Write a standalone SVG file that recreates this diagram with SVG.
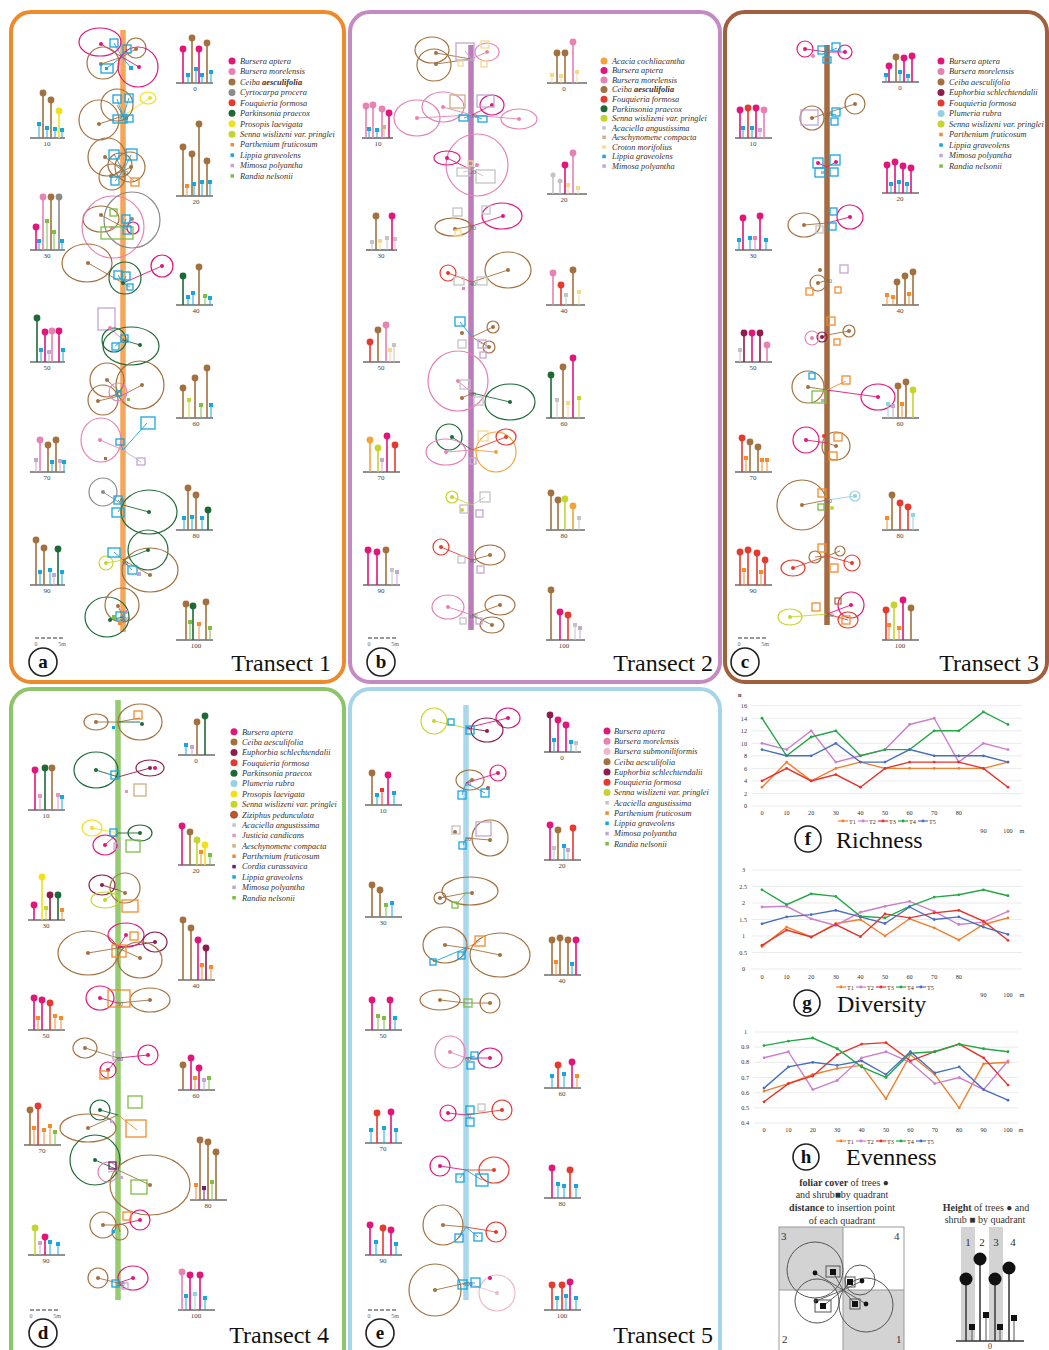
<svg xmlns="http://www.w3.org/2000/svg" width="1049" height="1350" viewBox="0 0 1049 1350">
<defs>
<style>
.fr{fill:none;stroke-width:4}
.tl{stroke-width:5.5;fill:none}
.cr{fill:none;stroke:currentColor;stroke-width:1.2}
.dt{fill:currentColor;stroke:none}
.ln{stroke:currentColor;stroke-width:0.9;fill:none}
.sq{fill:none;stroke:currentColor;stroke-width:1.3}
.st{stroke:currentColor;stroke-width:1.6;fill:none}
.ss{stroke:currentColor;stroke-width:1;fill:none}
.bl{stroke:#6b6b6b;stroke-width:1.6}
.lbl{font-family:"Liberation Serif",serif;font-size:7px;fill:#444;text-anchor:middle}
.sl{font-family:"Liberation Serif",serif;font-size:6px;fill:#666;text-anchor:middle}
.leg{font-family:"Liberation Serif",serif;font-style:italic;font-size:8.4px;fill:#333}
.tt{font-family:"Liberation Serif",serif;font-size:24px;fill:#111;text-anchor:end}
.lt{font-family:"Liberation Serif",serif;font-size:19px;font-weight:bold;text-anchor:middle;fill:#111}
.lc{fill:#fff;stroke:#222;stroke-width:1.6}
.ax{font-family:"Liberation Serif",serif;font-size:6.2px;fill:#333}
.gr{stroke:#e6e6e6;stroke-width:0.8}
.sx{font-family:"Liberation Serif",serif;font-size:10px;fill:#333;text-anchor:middle}
.ct{font-family:"Liberation Serif",serif;font-size:24px;fill:#111}
.ap{color:#E2157B}.bm{color:#E682B4}.ca{color:#A3713F}.cp{color:#8A8A8A}.ff{color:#E63A2E}
.pp{color:#1D6A37}.pl{color:#F2E01A}.sw{color:#C5D52E}.pf{color:#F28C2C}.lg{color:#1AA6DD}
.mp{color:#C3A6D4}.rn{color:#7DBE45}.ac{color:#F4A23A}.aa{color:#C4C4C4}.ae{color:#CDB083}
.cm{color:#F5D98E}.es{color:#8C1D4D}.pr{color:#92D2E2}.zp{color:#C8502C}.jc{color:#EA94C4}
.cc{color:#6B1E6E}.bs{color:#EEB7CC}
</style>
<marker id="m1" markerWidth="4" markerHeight="4" refX="2" refY="2" markerUnits="userSpaceOnUse"><circle cx="2" cy="2" r="1.4" fill="#F07F2D"/></marker>
<marker id="m2" markerWidth="4" markerHeight="4" refX="2" refY="2" markerUnits="userSpaceOnUse"><circle cx="2" cy="2" r="1.4" fill="#CC7FCB"/></marker>
<marker id="m3" markerWidth="4" markerHeight="4" refX="2" refY="2" markerUnits="userSpaceOnUse"><circle cx="2" cy="2" r="1.4" fill="#E8322B"/></marker>
<marker id="m4" markerWidth="4" markerHeight="4" refX="2" refY="2" markerUnits="userSpaceOnUse"><circle cx="2" cy="2" r="1.4" fill="#23A846"/></marker>
<marker id="m5" markerWidth="4" markerHeight="4" refX="2" refY="2" markerUnits="userSpaceOnUse"><circle cx="2" cy="2" r="1.4" fill="#4A6FBF"/></marker>
</defs>
<rect width="1049" height="1350" fill="#fff"/>

<!-- ================= PANEL A ================= -->
<g id="panel-a">
<rect class="fr" x="11" y="12" width="333" height="670" rx="20" stroke="#EE8A2A"/>
<path class="tl" d="M123 30V632" stroke="#F5A65B"/>
<g id="a-st0">
<path class="ap ln" d="M122 57L101 44M122 57L139 67"/><path class="ca ln" d="M122 57L101 64M122 57L136 49"/><path class="lg ln" d="M122 57L114 43M122 57L127 49M122 57L107 68M122 57L131 68"/>
<ellipse class="ap cr" cx="100" cy="42" rx="21" ry="14"/><circle class="ca cr" cx="103" cy="63" r="16"/><circle class="ca cr" cx="136" cy="48" r="10"/><circle class="ap cr" cx="138" cy="67" r="20"/>
<circle class="ap dt" cx="101" cy="44" r="2"/><circle class="ca dt" cx="101" cy="64" r="2"/><circle class="ca dt" cx="136" cy="49" r="2"/><circle class="ap dt" cx="139" cy="67" r="2"/>
<rect class="lg sq" x="110" y="39" width="8" height="8"/><rect class="lg sq" x="123" y="45" width="8" height="8"/><rect class="lg sq" x="101" y="64" width="12" height="9"/><rect class="lg dt" x="129" y="66" width="4" height="4"/><rect class="lg dt" x="105" y="67" width="3" height="3"/>
</g>
<g id="a-st10">
<path class="ca ln" d="M123 116L99 124M123 116L117 105"/><path class="pl ln" d="M123 116L150 98"/><path class="lg ln" d="M123 116L117 99M123 116L129 98M123 116L120 119M123 116L128 119"/>
<circle class="ca cr" cx="99" cy="120" r="20"/><circle class="ca cr" cx="117" cy="105" r="16"/><ellipse class="pl cr" cx="148" cy="98" rx="8" ry="6"/>
<circle class="ca dt" cx="99" cy="124" r="2"/><circle class="pl dt" cx="150" cy="98" r="2"/>
<rect class="lg sq" x="113" y="95" width="8" height="8"/><rect class="lg sq" x="125" y="94" width="8" height="8"/><rect class="lg sq" x="113" y="115" width="14" height="8"/><rect class="lg sq" x="125" y="115" width="8" height="7"/>
</g>
<g id="a-st20">
<path class="ca ln" d="M123 171L105 157M123 171L131 167M123 171L111 176M123 171L120 165"/><path class="lg ln" d="M123 171L114 154M123 171L131 155M123 171L115 181"/><path class="pf ln" d="M123 171L135 182"/>
<circle class="ca cr" cx="107" cy="157" r="19"/><circle class="ca cr" cx="130" cy="167" r="15"/><circle class="ca cr" cx="112" cy="177" r="13"/><circle class="ca cr" cx="120" cy="165" r="12"/>
<circle class="ca dt" cx="105" cy="157" r="2"/><circle class="ca dt" cx="131" cy="167" r="2"/><circle class="ca dt" cx="111" cy="176" r="2"/>
<rect class="lg sq" x="109" y="150" width="10" height="9"/><rect class="lg sq" x="126" y="149" width="11" height="11"/><rect class="lg sq" x="111" y="177" width="8" height="8"/><rect class="pf sq" x="131" y="178" width="8" height="8"/>
</g>
<g id="a-st30">
<path class="ca ln" d="M123 227L101 215"/><path class="cp ln" d="M123 227L132 219"/><path class="ap ln" d="M123 227L130 226"/><path class="lg ln" d="M123 227L126 219M123 227L127 230"/>
<ellipse class="ca cr" cx="101" cy="219" rx="18" ry="13"/><circle class="bm cr" cx="113" cy="227" r="31"/><circle class="cp cr" cx="132" cy="220" r="28"/><circle class="ap cr" cx="133" cy="228" r="6"/>
<circle class="ca dt" cx="101" cy="215" r="2"/><circle class="cp dt" cx="132" cy="219" r="2"/><circle class="bm dt" cx="112" cy="228" r="2"/>
<rect class="rn sq" x="101" y="227" width="32" height="12"/><rect class="rn sq" x="110" y="209" width="7" height="7"/><rect class="lg sq" x="122" y="215" width="8" height="8"/><rect class="lg sq" x="123" y="226" width="8" height="8"/>
</g>
<g id="a-st40">
<path class="ca ln" d="M123 283L88 263"/><path class="ap ln" d="M123 283L162 266"/><path class="lg ln" d="M123 283L118 275M123 283L126 276M123 283L130 287"/>
<ellipse class="ca cr" cx="87" cy="263" rx="25" ry="19"/><circle class="pp cr" cx="125" cy="278" r="16"/><circle class="ap cr" cx="162" cy="266" r="11"/>
<circle class="ca dt" cx="88" cy="263" r="2"/><circle class="ap dt" cx="162" cy="266" r="2"/><circle class="pp dt" cx="123" cy="283" r="2"/>
<rect class="lg sq" x="114" y="271" width="8" height="8"/><rect class="lg sq" x="122" y="272" width="8" height="8"/><rect class="lg sq" x="127" y="284" width="6" height="6"/>
</g>
<g id="a-st50">
<path class="pp ln" d="M123 340L140 345"/><path class="bm ln" d="M123 340L110 328"/><path class="lg ln" d="M123 340L115 346M123 340L124 338"/>
<rect class="mp sq" x="98" y="308" width="17" height="22"/><ellipse class="pp cr" cx="131" cy="346" rx="28" ry="19"/><circle class="pp cr" cx="114" cy="340" r="12"/>
<circle class="pp dt" cx="140" cy="345" r="2"/><circle class="bm dt" cx="110" cy="328" r="2"/>
<rect class="lg sq" x="112" y="343" width="7" height="7"/><rect class="lg sq" x="121" y="335" width="7" height="7"/>
</g>
<g id="a-st60">
<path class="ca ln" d="M123 395L107 380M123 395L142 385M123 395L98 401"/><path class="bm ln" d="M123 395L118 392"/>
<circle class="ca cr" cx="107" cy="380" r="17"/><circle class="ca cr" cx="140" cy="385" r="24"/><circle class="ca cr" cx="103" cy="400" r="15"/><circle class="bm cr" cx="118" cy="392" r="9"/>
<circle class="ca dt" cx="107" cy="380" r="2"/><circle class="ca dt" cx="142" cy="385" r="2"/><circle class="ca dt" cx="98" cy="401" r="2"/>
<rect class="lg sq" x="116" y="391" width="5" height="5"/><rect class="rn dt" x="127" y="398" width="3" height="3"/>
</g>
<g id="a-st70">
<path class="bm ln" d="M123 450L100 440"/><path class="lg ln" d="M123 450L147 423M123 450L120 442"/><path class="mp ln" d="M123 450L141 462"/>
<ellipse class="bm cr" cx="101" cy="440" rx="20" ry="22"/><circle class="bm dt" cx="100" cy="440" r="2"/>
<rect class="lg sq" x="141" y="417" width="14" height="12"/><rect class="lg sq" x="116" y="439" width="8" height="6"/><rect class="mp sq" x="137" y="458" width="8" height="7"/><rect class="ca dt" x="104" y="457" width="3" height="3"/>
</g>
<g id="a-st80">
<path class="cp ln" d="M123 505L103 492"/><path class="pp ln" d="M123 505L149 512"/><path class="lg ln" d="M123 505L118 500M123 505L118 512"/>
<circle class="cp cr" cx="103" cy="492" r="14"/><ellipse class="pp cr" cx="149" cy="512" rx="28" ry="22"/>
<circle class="cp dt" cx="103" cy="492" r="2"/><circle class="pp dt" cx="149" cy="512" r="2"/><circle class="ca dt" cx="122" cy="500" r="2"/>
<rect class="lg sq" x="114" y="496" width="8" height="8"/><rect class="lg sq" x="112" y="508" width="12" height="9"/>
</g>
<g id="a-st90">
<path class="pp ln" d="M123 560L148 550"/><path class="ca ln" d="M123 560L150 575"/><path class="sw ln" d="M123 560L106 563"/><path class="lg ln" d="M123 560L114 552M123 560L132 570"/>
<circle class="pp cr" cx="148" cy="550" r="20"/><ellipse class="ca cr" cx="150" cy="570" rx="28" ry="22"/><circle class="sw cr" cx="106" cy="563" r="7"/>
<circle class="pp dt" cx="148" cy="550" r="2"/><circle class="ca dt" cx="150" cy="575" r="2"/><circle class="sw dt" cx="106" cy="563" r="2"/>
<rect class="lg sq" x="108" y="548" width="12" height="9"/><rect class="lg sq" x="128" y="566" width="9" height="8"/><rect class="mp dt" x="137" y="572" width="4" height="4"/>
</g>
<g id="a-st100">
<path class="pp ln" d="M123 617L110 620"/><path class="ca ln" d="M123 617L118 606"/><path class="lg ln" d="M123 617L120 616"/>
<ellipse class="pp cr" cx="107" cy="617" rx="22" ry="20"/><circle class="ca cr" cx="122" cy="605" r="17"/>
<circle class="pp dt" cx="110" cy="620" r="2"/><circle class="ca dt" cx="118" cy="606" r="2"/><circle class="bm dt" cx="126" cy="612" r="2"/>
<rect class="lg sq" x="116" y="612" width="8" height="8"/><rect class="pf dt" x="118" y="621" width="4" height="4"/><rect class="rn dt" x="112" y="615" width="4" height="4"/>
</g>
<text class="sl" x="125" y="120">10</text><text class="sl" x="125" y="175">20</text><text class="sl" x="125" y="343">50</text><text class="sl" x="125" y="565">90</text><text class="sl" x="125" y="621">100</text>
<!-- height charts a -->
<g id="a-h0"><path class="bl" d="M176 83H213"/>
<path class="ap st" d="M183 83V49M199 83V49"/><path class="ca st" d="M192 83V38M207 83V43"/>
<circle class="ap dt" cx="183" cy="49" r="3.4"/><circle class="ap dt" cx="199" cy="49" r="3.4"/><circle class="ca dt" cx="192" cy="38" r="3.4"/><circle class="ca dt" cx="207" cy="43" r="3.4"/>
<path class="lg ss" d="M188 83V75M196 83V69M202 83V75M211 83V72"/><g class="lg dt"><rect x="186" y="73" width="4" height="4"/><rect x="194" y="67" width="4" height="4"/><rect x="200" y="73" width="4" height="4"/><rect x="209" y="70" width="4" height="4"/></g>
<text class="lbl" x="195" y="91">0</text></g>
<g id="a-h10"><path class="bl" d="M30 138H65"/>
<path class="ca st" d="M43 138V93M51 138V100"/><path class="pl st" d="M59 138V111"/>
<circle class="ca dt" cx="43" cy="93" r="3.4"/><circle class="ca dt" cx="51" cy="100" r="3.4"/><circle class="pl dt" cx="59" cy="111" r="3.4"/>
<path class="lg ss" d="M39 138V124M47 138V128M55 138V129M62 138V130"/><g class="lg dt"><rect x="37" y="122" width="4" height="4"/><rect x="45" y="126" width="4" height="4"/><rect x="53" y="127" width="4" height="4"/><rect x="60" y="128" width="4" height="4"/></g>
<text class="lbl" x="47" y="146">10</text></g>
<g id="a-h20"><path class="bl" d="M176 196H213"/>
<path class="ca st" d="M183 196V147M192 196V154M199 196V124M207 196V161"/>
<circle class="ca dt" cx="183" cy="147" r="3.4"/><circle class="ca dt" cx="192" cy="154" r="3.4"/><circle class="ca dt" cx="199" cy="124" r="3.4"/><circle class="ca dt" cx="207" cy="161" r="3.4"/>
<path class="pf ss" d="M187 196V186"/><rect class="pf dt" x="185" y="184" width="4" height="4"/>
<path class="lg ss" d="M194 196V184M202 196V182M210 196V182"/><g class="lg dt"><rect x="192" y="182" width="4" height="4"/><rect x="200" y="180" width="4" height="4"/><rect x="208" y="180" width="4" height="4"/></g>
<text class="lbl" x="196" y="204">20</text></g>
<g id="a-h30"><path class="bl" d="M30 250H65"/>
<path class="ap st" d="M36 250V227"/><path class="bm st" d="M43 250V197"/><path class="ca st" d="M51 250V197"/><path class="cp st" d="M59 250V197"/>
<circle class="ap dt" cx="36" cy="227" r="3.4"/><circle class="bm dt" cx="43" cy="197" r="3.4"/><circle class="ca dt" cx="51" cy="197" r="3.4"/><circle class="cp dt" cx="59" cy="197" r="3.4"/>
<path class="lg ss" d="M39 250V241M62 250V241"/><path class="rn ss" d="M47 250V221M54 250V232"/>
<g class="lg dt"><rect x="37" y="239" width="4" height="4"/><rect x="60" y="239" width="4" height="4"/></g><g class="rn dt"><rect x="45" y="219" width="4" height="4"/><rect x="52" y="230" width="4" height="4"/></g>
<text class="lbl" x="47" y="258">30</text></g>
<g id="a-h40"><path class="bl" d="M176 305H213"/>
<path class="pp st" d="M183 305V276"/><path class="ca st" d="M199 305V267"/>
<circle class="pp dt" cx="183" cy="276" r="3.4"/><circle class="ca dt" cx="199" cy="267" r="3.4"/>
<path class="lg ss" d="M188 305V297M193 305V293M210 305V298"/><path class="rn ss" d="M205 305V296"/>
<g class="lg dt"><rect x="186" y="295" width="4" height="4"/><rect x="191" y="291" width="4" height="4"/><rect x="208" y="296" width="4" height="4"/></g><rect class="rn dt" x="203" y="294" width="4" height="4"/>
<text class="lbl" x="196" y="313">40</text></g>
<g id="a-h50"><path class="bl" d="M30 362H65"/>
<path class="pp st" d="M37 362V318"/><path class="ap st" d="M45 362V332M59 362V331"/><path class="bm st" d="M52 362V331"/>
<circle class="pp dt" cx="37" cy="318" r="3.4"/><circle class="ap dt" cx="45" cy="332" r="3.4"/><circle class="bm dt" cx="52" cy="331" r="3.4"/><circle class="ap dt" cx="59" cy="331" r="3.4"/>
<path class="lg ss" d="M41 362V350M63 362V350"/><path class="mp ss" d="M49 362V352"/>
<g class="lg dt"><rect x="39" y="348" width="4" height="4"/><rect x="61" y="348" width="4" height="4"/></g><rect class="mp dt" x="47" y="350" width="4" height="4"/>
<text class="lbl" x="47" y="370">50</text></g>
<g id="a-h60"><path class="bl" d="M176 418H213"/>
<path class="ca st" d="M183 418V388M195 418V378M207 418V368"/>
<circle class="ca dt" cx="183" cy="388" r="3.4"/><circle class="ca dt" cx="195" cy="378" r="3.4"/><circle class="ca dt" cx="207" cy="368" r="3.4"/>
<path class="sw ss" d="M189 418V400"/><path class="rn ss" d="M201 418V405"/><path class="lg ss" d="M211 418V405"/>
<rect class="sw dt" x="187" y="398" width="4" height="4"/><rect class="rn dt" x="199" y="403" width="4" height="4"/><rect class="lg dt" x="209" y="403" width="4" height="4"/>
<text class="lbl" x="196" y="426">60</text></g>
<g id="a-h70"><path class="bl" d="M30 472H65"/>
<path class="bm st" d="M40 472V440"/><path class="ca st" d="M48 472V445M56 472V440"/>
<circle class="bm dt" cx="40" cy="440" r="3.4"/><circle class="ca dt" cx="48" cy="445" r="3.4"/><circle class="ca dt" cx="56" cy="440" r="3.4"/>
<path class="mp ss" d="M36 472V460M60 472V461"/><path class="lg ss" d="M52 472V462M64 472V462"/>
<g class="mp dt"><rect x="34" y="458" width="4" height="4"/><rect x="58" y="459" width="4" height="4"/></g><g class="lg dt"><rect x="50" y="460" width="4" height="4"/><rect x="62" y="460" width="4" height="4"/></g>
<text class="lbl" x="47" y="480">70</text></g>
<g id="a-h80"><path class="bl" d="M176 530H213"/>
<path class="ca st" d="M188 530V488M196 530V495"/><path class="pp st" d="M208 530V510"/>
<circle class="ca dt" cx="188" cy="488" r="3.4"/><circle class="ca dt" cx="196" cy="495" r="3.4"/><circle class="pp dt" cx="208" cy="510" r="3.4"/>
<path class="lg ss" d="M184 530V518M192 530V517M202 530V518"/><g class="lg dt"><rect x="182" y="516" width="4" height="4"/><rect x="190" y="515" width="4" height="4"/><rect x="200" y="516" width="4" height="4"/></g>
<text class="lbl" x="196" y="538">80</text></g>
<g id="a-h90"><path class="bl" d="M30 585H65"/>
<path class="ca st" d="M36 585V540M44 585V548"/><path class="pp st" d="M58 585V549"/>
<circle class="ca dt" cx="36" cy="540" r="3.4"/><circle class="ca dt" cx="44" cy="548" r="3.4"/><circle class="pp dt" cx="58" cy="549" r="3.4"/>
<path class="lg ss" d="M40 585V572M50 585V570M62 585V572"/><path class="mp ss" d="M54 585V575"/>
<g class="lg dt"><rect x="38" y="570" width="4" height="4"/><rect x="48" y="568" width="4" height="4"/><rect x="60" y="570" width="4" height="4"/></g><rect class="mp dt" x="52" y="573" width="4" height="4"/>
<text class="lbl" x="47" y="593">90</text></g>
<g id="a-h100"><path class="bl" d="M176 640H213"/>
<path class="ca st" d="M186 640V604M206 640V602"/><path class="pp st" d="M193 640V606"/>
<circle class="ca dt" cx="186" cy="604" r="3.4"/><circle class="pp dt" cx="193" cy="606" r="3.4"/><circle class="ca dt" cx="206" cy="602" r="3.4"/>
<path class="rn ss" d="M190 640V622M210 640V628"/><path class="pf ss" d="M199 640V624"/>
<g class="rn dt"><rect x="188" y="620" width="4" height="4"/><rect x="208" y="626" width="4" height="4"/></g><rect class="pf dt" x="197" y="622" width="4" height="4"/>
<text class="lbl" x="196" y="648">100</text></g>
<g id="a-legend">
<circle class="ap dt" cx="232" cy="61" r="3.5"/><text class="leg" x="240" y="63.8">Bursera aptera</text>
<circle class="bm dt" cx="232" cy="71.5" r="3.5"/><text class="leg" x="240" y="74.3">Bursera morelensis</text>
<circle class="ca dt" cx="232" cy="82" r="3.5"/><text class="leg" x="240" y="84.8">Ceiba <tspan font-weight="bold">aesculifolia</tspan></text>
<circle class="cp dt" cx="232" cy="92.4" r="3.5"/><text class="leg" x="240" y="95.2">Cyrtocarpa procera</text>
<circle class="ff dt" cx="232" cy="102.8" r="3.5"/><text class="leg" x="240" y="105.6">Fouquieria formosa</text>
<circle class="pp dt" cx="232" cy="113.3" r="3.5"/><text class="leg" x="240" y="116.1">Parkinsonia praecox</text>
<circle class="pl dt" cx="232" cy="123.7" r="3.5"/><text class="leg" x="240" y="126.5">Prosopis laevigata</text>
<circle class="sw dt" cx="232" cy="134.2" r="3.5"/><text class="leg" x="240" y="137">Senna wislizeni var. pringlei</text>
<rect class="pf dt" x="230.5" y="143" width="3.5" height="3.5"/><text class="leg" x="240" y="147.4">Parthenium fruticosum</text>
<rect class="lg dt" x="230.5" y="153.4" width="3.5" height="3.5"/><text class="leg" x="240" y="157.8">Lippia graveolens</text>
<rect class="mp dt" x="230.5" y="163.8" width="3.5" height="3.5"/><text class="leg" x="240" y="168.3">Mimosa polyantha</text>
<rect class="rn dt" x="230.5" y="174.2" width="3.5" height="3.5"/><text class="leg" x="240" y="178.7">Randia nelsonii</text>
</g>
<g id="a-scale"><path d="M35 638H63" stroke="#333" stroke-width="1.2" stroke-dasharray="4 2"/><text class="sl" x="36" y="646">0</text><text class="sl" x="62" y="646">5m</text></g>
<g id="a-label"><circle class="lc" cx="43" cy="662" r="14"/><text class="lt" x="43" y="668">a</text><text class="tt" x="331" y="671">Transect 1</text></g>
</g>

<!-- ================= PANEL B ================= -->
<g id="panel-b">
<rect class="fr" x="350" y="12" width="370" height="670" rx="20" stroke="#C58AC2"/>
<path class="tl" d="M471 45V630" stroke="#B97DB7"/>
<g id="b-st0">
<path class="ca ln" d="M471 59L436 53M471 59L436 64"/><path class="bm ln" d="M471 59L487 52"/><path class="mp ln" d="M471 59L465 51"/>
<ellipse class="ca cr" cx="432" cy="50" rx="17" ry="13"/><ellipse class="ca cr" cx="434" cy="65" rx="17" ry="16"/><ellipse class="bm cr" cx="487" cy="52" rx="12" ry="9"/>
<circle class="ca dt" cx="436" cy="53" r="2"/><circle class="ca dt" cx="436" cy="64" r="2"/><circle class="bm dt" cx="487" cy="52" r="2"/>
<rect class="mp sq" x="456" y="43" width="18" height="17"/><rect class="cm sq" x="481" y="41" width="8" height="7"/><rect class="cm sq" x="481" y="61" width="6" height="6"/><rect class="cm sq" x="458" y="61" width="5" height="5"/>
</g>
<g id="b-st10">
<path class="bm ln" d="M472 115L417 118M472 115L443 107M472 115L519 119"/><path class="ap ln" d="M472 115L492 105"/><path class="lg ln" d="M472 115L464 118M472 115L482 119"/>
<ellipse class="bm cr" cx="417" cy="118" rx="23" ry="18"/><ellipse class="bm cr" cx="443" cy="107" rx="21" ry="15"/><ellipse class="ap cr" cx="492" cy="105" rx="12" ry="10"/><ellipse class="bm cr" cx="519" cy="119" rx="18" ry="10"/>
<circle class="bm dt" cx="417" cy="118" r="2"/><circle class="bm dt" cx="443" cy="107" r="2"/><circle class="ap dt" cx="492" cy="105" r="2"/><circle class="bm dt" cx="519" cy="119" r="2"/>
<rect class="ae sq" x="450" y="95" width="15" height="13"/><rect class="mp sq" x="477" y="95" width="17" height="12"/><rect class="lg sq" x="459" y="115" width="9" height="6"/><rect class="lg sq" x="478" y="116" width="9" height="6"/>
</g>
<g id="b-st20">
<path class="bm ln" d="M472 170L477 165"/><path class="ap ln" d="M472 170L447 158"/><path class="aa ln" d="M472 170L463 172M472 170L483 176"/>
<circle class="bm cr" cx="477" cy="165" r="31"/><ellipse class="ap cr" cx="447" cy="158" rx="13" ry="7"/>
<circle class="bm dt" cx="477" cy="165" r="2"/><circle class="ap dt" cx="447" cy="158" r="2"/>
<rect class="aa sq" x="457" y="168" width="13" height="8"/><rect class="aa sq" x="476" y="170" width="19" height="13"/><rect class="cm sq" x="468" y="161" width="5" height="5"/>
</g>
<g id="b-st30">
<path class="ca ln" d="M472 226L455 229"/><path class="ap ln" d="M472 226L503 216"/>
<ellipse class="ca cr" cx="453" cy="227" rx="18" ry="9"/><ellipse class="ap cr" cx="502" cy="216" rx="20" ry="13"/>
<circle class="ca dt" cx="455" cy="229" r="2"/><circle class="ap dt" cx="503" cy="216" r="2"/>
<rect class="aa sq" x="453" y="208" width="9" height="8"/><rect class="aa sq" x="482" y="206" width="8" height="8"/><rect class="cm sq" x="455" y="230" width="6" height="6"/>
</g>
<g id="b-st40">
<path class="ff ln" d="M472 282L448 273"/><path class="ca ln" d="M472 282L508 270"/>
<circle class="ff cr" cx="448" cy="273" r="8"/><ellipse class="ca cr" cx="508" cy="270" rx="23" ry="18"/>
<circle class="ff dt" cx="448" cy="273" r="2"/><circle class="ca dt" cx="508" cy="270" r="2"/>
<rect class="aa sq" x="454" y="277" width="10" height="8"/><rect class="aa sq" x="477" y="277" width="10" height="8"/><rect class="bm dt" x="462" y="287" width="3" height="3"/>
</g>
<g id="b-st50">
<path class="lg ln" d="M472 337L460 322"/><path class="ca ln" d="M472 337L493 327M472 337L489 347"/><path class="mp ln" d="M472 337L482 344"/>
<circle class="ca cr" cx="493" cy="327" r="6"/><circle class="ca cr" cx="489" cy="347" r="6"/>
<circle class="ca dt" cx="493" cy="327" r="2"/><circle class="ca dt" cx="489" cy="347" r="2"/><circle class="ca dt" cx="462" cy="333" r="2"/>
<rect class="lg sq" x="455" y="317" width="10" height="9"/><rect class="mp sq" x="478" y="340" width="8" height="8"/><rect class="aa sq" x="458" y="340" width="8" height="8"/><rect class="mp sq" x="480" y="352" width="6" height="6"/>
</g>
<g id="b-st60">
<path class="bm ln" d="M472 393L458 381"/><path class="pp ln" d="M472 393L510 402"/><path class="ca ln" d="M472 393L462 398"/>
<circle class="bm cr" cx="458" cy="381" r="30"/><ellipse class="pp cr" cx="510" cy="402" rx="25" ry="18"/>
<circle class="bm dt" cx="458" cy="381" r="2"/><circle class="pp dt" cx="510" cy="402" r="2"/><circle class="ca dt" cx="462" cy="398" r="2"/>
<rect class="aa sq" x="460" y="380" width="10" height="9"/><rect class="aa sq" x="474" y="397" width="9" height="8"/>
</g>
<g id="b-st70">
<path class="pp ln" d="M472 450L452 437"/><path class="bm ln" d="M472 450L446 452"/><path class="ac ln" d="M472 450L496 452"/><path class="ff ln" d="M472 450L506 437"/>
<circle class="pp cr" cx="449" cy="437" r="13"/><ellipse class="bm cr" cx="446" cy="452" rx="20" ry="13"/><circle class="ac cr" cx="496" cy="452" r="20"/><ellipse class="ff cr" cx="506" cy="437" rx="10" ry="8"/>
<circle class="pp dt" cx="452" cy="437" r="2"/><circle class="bm dt" cx="446" cy="452" r="2"/><circle class="ac dt" cx="496" cy="452" r="2"/><circle class="ff dt" cx="506" cy="437" r="2"/>
<rect class="cm sq" x="478" y="431" width="10" height="10"/><rect class="mp sq" x="470" y="458" width="6" height="6"/>
</g>
<g id="b-st80">
<path class="sw ln" d="M472 505L452 497"/><path class="aa ln" d="M472 505L485 497"/>
<circle class="sw cr" cx="452" cy="497" r="6"/><circle class="sw dt" cx="452" cy="497" r="2"/><circle class="sw dt" cx="462" cy="510" r="2"/>
<rect class="aa sq" x="480" y="492" width="10" height="10"/><rect class="aa sq" x="460" y="505" width="8" height="8"/><rect class="mp sq" x="476" y="510" width="7" height="7"/>
</g>
<g id="b-st90">
<path class="ff ln" d="M472 560L441 547"/><path class="ca ln" d="M472 560L490 555"/>
<circle class="ff cr" cx="441" cy="547" r="8"/><ellipse class="ca cr" cx="490" cy="555" rx="15" ry="10"/>
<circle class="ff dt" cx="441" cy="547" r="2"/><circle class="ca dt" cx="490" cy="555" r="2"/>
<rect class="mp sq" x="477" y="566" width="7" height="7"/><rect class="aa sq" x="458" y="556" width="7" height="7"/>
</g>
<g id="b-st100">
<path class="bm ln" d="M472 615L448 607"/><path class="ca ln" d="M472 615L500 605M472 615L492 625"/>
<ellipse class="bm cr" cx="448" cy="607" rx="16" ry="12"/><ellipse class="ca cr" cx="500" cy="605" rx="15" ry="10"/><ellipse class="ca cr" cx="492" cy="625" rx="12" ry="8"/>
<circle class="bm dt" cx="448" cy="607" r="2"/><circle class="ca dt" cx="500" cy="605" r="2"/><circle class="ca dt" cx="492" cy="625" r="2"/>
<rect class="mp sq" x="476" y="618" width="6" height="6"/><rect class="aa sq" x="460" y="618" width="6" height="6"/>
</g>
<text class="sl" x="474" y="118">10</text><text class="sl" x="473" y="174">20</text><text class="sl" x="473" y="230">30</text><text class="sl" x="473" y="286">40</text><text class="sl" x="473" y="396">60</text><text class="sl" x="473" y="563">90</text><text class="sl" x="473" y="618">100</text>
<!-- height charts b -->
<g id="b-h0"><path class="bl" d="M547 83H587"/>
<path class="ca st" d="M557 83V53M565 83V53"/><path class="bm st" d="M573 83V42"/>
<circle class="ca dt" cx="557" cy="53" r="3.4"/><circle class="ca dt" cx="565" cy="53" r="3.4"/><circle class="bm dt" cx="573" cy="42" r="3.4"/>
<path class="cm ss" d="M552 83V75M561 83V76M577 83V72"/><g class="cm dt"><rect x="550" y="73" width="4" height="4"/><rect x="559" y="74" width="4" height="4"/><rect x="575" y="70" width="4" height="4"/></g>
<text class="lbl" x="564" y="91">0</text></g>
<g id="b-h10"><path class="bl" d="M362 138H393"/>
<path class="bm st" d="M366 138V106M373 138V105M382 138V109"/><path class="ap st" d="M389 138V113"/>
<circle class="bm dt" cx="366" cy="106" r="3.4"/><circle class="bm dt" cx="373" cy="105" r="3.4"/><circle class="bm dt" cx="382" cy="109" r="3.4"/><circle class="ap dt" cx="389" cy="113" r="3.4"/>
<path class="lg ss" d="M369 138V129M377 138V130"/><path class="ae ss" d="M384 138V127"/><g class="lg dt"><rect x="367" y="127" width="4" height="4"/><rect x="375" y="128" width="4" height="4"/></g><rect class="ae dt" x="382" y="125" width="4" height="4"/>
<text class="lbl" x="378" y="146">10</text></g>
<g id="b-h20"><path class="bl" d="M547 194H587"/>
<path class="aa st" d="M553 194V175M560 194V181"/><path class="ap st" d="M565 194V165"/><path class="bm st" d="M573 194V153"/>
<circle class="aa dt" cx="553" cy="175" r="2.5"/><circle class="aa dt" cx="560" cy="181" r="2.5"/><circle class="ap dt" cx="565" cy="165" r="3.4"/><circle class="bm dt" cx="573" cy="153" r="3.4"/>
<path class="cm ss" d="M568 194V185M578 194V188"/><g class="cm dt"><rect x="566" y="183" width="4" height="4"/><rect x="576" y="186" width="4" height="4"/></g>
<text class="lbl" x="564" y="202">20</text></g>
<g id="b-h30"><path class="bl" d="M366 250H397"/>
<path class="ca st" d="M376 250V216"/><path class="ap st" d="M392 250V216"/>
<circle class="ca dt" cx="376" cy="216" r="3.4"/><circle class="ap dt" cx="392" cy="216" r="3.4"/>
<path class="aa ss" d="M372 250V242M387 250V238M395 250V239"/><path class="cm ss" d="M380 250V241"/>
<g class="aa dt"><rect x="370" y="240" width="4" height="4"/><rect x="385" y="236" width="4" height="4"/><rect x="393" y="237" width="4" height="4"/></g><rect class="cm dt" x="378" y="239" width="4" height="4"/>
<text class="lbl" x="381" y="258">30</text></g>
<g id="b-h40"><path class="bl" d="M546 305H585"/>
<path class="bm st" d="M553 305V273"/><path class="ca st" d="M573 305V270"/><path class="ff st" d="M561 305V285"/>
<circle class="bm dt" cx="553" cy="273" r="3.4"/><circle class="ca dt" cx="573" cy="270" r="3.4"/><circle class="ff dt" cx="561" cy="285" r="3.4"/>
<path class="aa ss" d="M566 305V295"/><path class="cm ss" d="M579 305V292"/><rect class="aa dt" x="564" y="293" width="4" height="4"/><rect class="cm dt" x="577" y="290" width="4" height="4"/>
<text class="lbl" x="564" y="313">40</text></g>
<g id="b-h50"><path class="bl" d="M363 362H400"/>
<path class="ff st" d="M370 362V342"/><path class="ca st" d="M378 362V330"/><path class="bm st" d="M386 362V325"/>
<circle class="ff dt" cx="370" cy="342" r="3.4"/><circle class="ca dt" cx="378" cy="330" r="3.4"/><circle class="bm dt" cx="386" cy="325" r="3.4"/>
<path class="aa ss" d="M394 362V345"/><path class="cm ss" d="M390 362V350"/><rect class="aa dt" x="392" y="343" width="4" height="4"/><rect class="cm dt" x="388" y="348" width="4" height="4"/>
<text class="lbl" x="381" y="370">50</text></g>
<g id="b-h60"><path class="bl" d="M546 418H585"/>
<path class="pp st" d="M551 418V375"/><path class="ca st" d="M563 418V367"/><path class="ap st" d="M573 418V358"/>
<circle class="pp dt" cx="551" cy="375" r="3.4"/><circle class="ca dt" cx="563" cy="367" r="3.4"/><circle class="ap dt" cx="573" cy="358" r="3.4"/>
<path class="aa ss" d="M557 418V400"/><path class="cm ss" d="M568 418V403"/><path class="sw ss" d="M579 418V398"/>
<rect class="aa dt" x="555" y="398" width="4" height="4"/><rect class="cm dt" x="566" y="401" width="4" height="4"/><rect class="sw dt" x="577" y="396" width="4" height="4"/>
<text class="lbl" x="564" y="426">60</text></g>
<g id="b-h70"><path class="bl" d="M363 472H400"/>
<path class="ac st" d="M370 472V440"/><path class="sw st" d="M378 472V448"/><path class="ap st" d="M387 472V436"/><path class="ff st" d="M395 472V445"/>
<circle class="ac dt" cx="370" cy="440" r="3.4"/><circle class="sw dt" cx="378" cy="448" r="3.4"/><circle class="ap dt" cx="387" cy="436" r="3.4"/><circle class="ff dt" cx="395" cy="445" r="3.4"/>
<path class="mp ss" d="M382 472V460"/><rect class="mp dt" x="380" y="458" width="4" height="4"/>
<text class="lbl" x="381" y="480">70</text></g>
<g id="b-h80"><path class="bl" d="M546 530H585"/>
<path class="ca st" d="M551 530V493M558 530V500"/><path class="sw st" d="M565 530V499"/><path class="ac st" d="M573 530V506"/>
<circle class="ca dt" cx="551" cy="493" r="3.4"/><circle class="ca dt" cx="558" cy="500" r="3.4"/><circle class="sw dt" cx="565" cy="499" r="3.4"/><circle class="ac dt" cx="573" cy="506" r="3.4"/>
<path class="aa ss" d="M579 530V518"/><rect class="aa dt" x="577" y="516" width="4" height="4"/>
<text class="lbl" x="564" y="538">80</text></g>
<g id="b-h90"><path class="bl" d="M363 585H400"/>
<path class="ap st" d="M368 585V550M377 585V552"/><path class="ca st" d="M386 585V550"/>
<circle class="ap dt" cx="368" cy="550" r="3.4"/><circle class="ap dt" cx="377" cy="552" r="3.4"/><circle class="ca dt" cx="386" cy="550" r="3.4"/>
<path class="aa ss" d="M392 585V570"/><path class="mp ss" d="M397 585V572"/><rect class="aa dt" x="390" y="568" width="4" height="4"/><rect class="mp dt" x="395" y="570" width="4" height="4"/>
<text class="lbl" x="381" y="593">90</text></g>
<g id="b-h100"><path class="bl" d="M546 640H585"/>
<path class="ca st" d="M551 640V590"/><path class="ap st" d="M560 640V612"/><path class="ff st" d="M568 640V615"/>
<circle class="ca dt" cx="551" cy="590" r="3.4"/><circle class="ap dt" cx="560" cy="612" r="3.4"/><circle class="ff dt" cx="568" cy="615" r="3.4"/>
<path class="aa ss" d="M575 640V625"/><path class="mp ss" d="M580 640V628"/><rect class="aa dt" x="573" y="623" width="4" height="4"/><rect class="mp dt" x="578" y="626" width="4" height="4"/>
<text class="lbl" x="564" y="648">100</text></g>
<g id="b-legend">
<circle class="ac dt" cx="604" cy="61" r="3.5"/><text class="leg" x="612" y="63.8">Acacia cochliacantha</text>
<circle class="ap dt" cx="604" cy="70.5" r="3.5"/><text class="leg" x="612" y="73.3">Bursera aptera</text>
<circle class="bm dt" cx="604" cy="80.1" r="3.5"/><text class="leg" x="612" y="82.9">Bursera morelensis</text>
<circle class="ca dt" cx="604" cy="89.6" r="3.5"/><text class="leg" x="612" y="92.4">Ceiba <tspan font-weight="bold">aesculifolia</tspan></text>
<circle class="ff dt" cx="604" cy="99.2" r="3.5"/><text class="leg" x="612" y="102">Fouquieria formosa</text>
<circle class="pp dt" cx="604" cy="108.7" r="3.5"/><text class="leg" x="612" y="111.5">Parkinsonia praecox</text>
<circle class="sw dt" cx="604" cy="118.3" r="3.5"/><text class="leg" x="612" y="121.1">Senna wislizeni var. pringlei</text>
<rect class="aa dt" x="602.3" y="126.1" width="3.5" height="3.5"/><text class="leg" x="612" y="130.6">Acaciella angustissima</text>
<rect class="ae dt" x="602.3" y="135.6" width="3.5" height="3.5"/><text class="leg" x="612" y="140.2">Aeschynomene compacta</text>
<rect class="cm dt" x="602.3" y="145.2" width="3.5" height="3.5"/><text class="leg" x="612" y="149.7">Croton morifolius</text>
<rect class="lg dt" x="602.3" y="154.7" width="3.5" height="3.5"/><text class="leg" x="612" y="159.3">Lippia graveolens</text>
<rect class="mp dt" x="602.3" y="164.3" width="3.5" height="3.5"/><text class="leg" x="612" y="168.8">Mimosa polyantha</text>
</g>
<g id="b-scale"><path d="M368 638H396" stroke="#333" stroke-width="1.2" stroke-dasharray="4 2"/><text class="sl" x="369" y="646">0</text><text class="sl" x="395" y="646">5m</text></g>
<g id="b-label"><circle class="lc" cx="381" cy="662" r="14"/><text class="lt" x="381" y="668">b</text><text class="tt" x="713" y="671">Transect 2</text></g>
</g>

<!-- ================= PANEL C ================= -->
<g id="panel-c">
<rect class="fr" x="725" y="12" width="322" height="670" rx="20" stroke="#A0603C"/>
<path class="tl" d="M827 45V625" stroke="#A56B43"/>
<g id="c-st0">
<path class="ap ln" d="M827 52L805 49M827 52L845 52"/><path class="lg ln" d="M827 52L824 52M827 52L837 48"/>
<circle class="ap cr" cx="805" cy="49" r="8"/><circle class="ap cr" cx="845" cy="52" r="7"/>
<circle class="ap dt" cx="805" cy="49" r="2"/><circle class="ap dt" cx="845" cy="52" r="2"/><circle class="bm dt" cx="813" cy="56" r="2"/>
<rect class="lg sq" x="818" y="46" width="8" height="8"/><rect class="lg sq" x="832" y="43" width="8" height="8"/><rect class="lg sq" x="823" y="57" width="8" height="6"/>
</g>
<g id="c-st10">
<path class="ca ln" d="M827 113L855 104M827 113L812 118"/><path class="lg ln" d="M827 113L836 115"/>
<circle class="ca cr" cx="855" cy="104" r="10"/><circle class="ca cr" cx="812" cy="118" r="12"/>
<circle class="ca dt" cx="855" cy="104" r="2"/><circle class="ca dt" cx="812" cy="118" r="2"/>
<rect class="mp sq" x="801" y="110" width="17" height="15"/><rect class="lg sq" x="832" y="108" width="8" height="8"/><rect class="lg sq" x="831" y="118" width="7" height="7"/>
</g>
<g id="c-st20">
<path class="ap ln" d="M827 167L818 163M827 167L836 162"/>
<circle class="ap dt" cx="818" cy="163" r="2"/><circle class="ap dt" cx="836" cy="162" r="2"/>
<rect class="lg sq" x="813" y="158" width="10" height="10"/><rect class="lg sq" x="830" y="155" width="10" height="10"/><rect class="lg sq" x="815" y="168" width="10" height="9"/><rect class="lg sq" x="830" y="168" width="8" height="8"/><rect class="mp dt" x="821" y="171" width="3" height="3"/>
</g>
<g id="c-st30">
<path class="ca ln" d="M827 223L804 225"/><path class="ap ln" d="M827 223L850 217"/>
<ellipse class="ca cr" cx="804" cy="225" rx="16" ry="12"/><ellipse class="ap cr" cx="850" cy="217" rx="13" ry="12"/>
<circle class="ca dt" cx="804" cy="225" r="2"/><circle class="ap dt" cx="850" cy="217" r="2"/>
<rect class="lg sq" x="830" y="208" width="7" height="7"/><rect class="lg sq" x="829" y="223" width="7" height="7"/><rect class="aa sq" x="816" y="226" width="7" height="7"/>
</g>
<g id="c-st40">
<path class="ca ln" d="M827 280L818 283"/>
<circle class="ca cr" cx="818" cy="283" r="8"/><circle class="ca dt" cx="818" cy="283" r="2"/><circle class="ca dt" cx="820" cy="270" r="2"/>
<rect class="mp sq" x="840" y="265" width="8" height="8"/><rect class="pf sq" x="806" y="288" width="7" height="7"/><rect class="pf sq" x="835" y="287" width="6" height="6"/>
</g>
<g id="c-st50">
<path class="es ln" d="M827 335L822 337"/><path class="ca ln" d="M827 335L849 331"/>
<circle class="es cr" cx="822" cy="337" r="5"/><circle class="bm cr" cx="812" cy="338" r="7"/><circle class="ca cr" cx="849" cy="331" r="6"/>
<circle class="es dt" cx="822" cy="337" r="2"/><circle class="ca dt" cx="849" cy="331" r="2"/><circle class="bm dt" cx="812" cy="338" r="2"/>
<rect class="pf sq" x="827" y="317" width="8" height="8"/><rect class="pf sq" x="834" y="339" width="6" height="6"/>
</g>
<g id="c-st60">
<path class="ca ln" d="M827 390L808 387"/><path class="ap ln" d="M827 390L878 397"/><path class="pf ln" d="M827 390L846 381"/>
<circle class="ca cr" cx="808" cy="387" r="16"/><ellipse class="ap cr" cx="878" cy="397" rx="17" ry="13"/>
<circle class="ca dt" cx="808" cy="387" r="2"/><circle class="ap dt" cx="878" cy="397" r="2"/>
<rect class="pf sq" x="842" y="376" width="8" height="8"/><rect class="lg sq" x="809" y="373" width="6" height="6"/><rect class="rn sq" x="812" y="391" width="14" height="12"/><rect class="mp dt" x="821" y="399" width="3" height="3"/>
</g>
<g id="c-st70">
<path class="ap ln" d="M827 443L806 440"/><path class="ca ln" d="M827 443L836 446"/>
<circle class="ap cr" cx="806" cy="440" r="13"/><circle class="ca cr" cx="836" cy="446" r="14"/>
<circle class="ap dt" cx="806" cy="440" r="2"/><circle class="ca dt" cx="836" cy="446" r="2"/><circle class="ff dt" cx="824" cy="436" r="2"/>
<rect class="pf sq" x="834" y="433" width="8" height="8"/><rect class="pf sq" x="829" y="452" width="8" height="8"/>
</g>
<g id="c-st80">
<path class="ca ln" d="M827 500L802 505"/><path class="pr ln" d="M827 500L855 496"/>
<circle class="ca cr" cx="802" cy="505" r="25"/><circle class="pr cr" cx="855" cy="496" r="5"/>
<circle class="ca dt" cx="802" cy="505" r="2"/><circle class="pr dt" cx="855" cy="496" r="2"/><circle class="sw dt" cx="832" cy="508" r="2"/>
<rect class="pf sq" x="818" y="489" width="8" height="8"/><rect class="rn sq" x="818" y="504" width="6" height="6"/>
</g>
<g id="c-st90">
<path class="ff ln" d="M827 556L793 568M827 556L852 563"/><path class="ca ln" d="M827 556L815 557M827 556L840 551"/>
<ellipse class="ff cr" cx="793" cy="568" rx="12" ry="8"/><circle class="ff cr" cx="852" cy="563" r="8"/><circle class="ca cr" cx="815" cy="557" r="6"/><circle class="ca cr" cx="840" cy="551" r="5"/>
<circle class="ff dt" cx="793" cy="568" r="2"/><circle class="ff dt" cx="852" cy="563" r="2"/>
<rect class="pf sq" x="818" y="544" width="8" height="8"/><rect class="pf sq" x="830" y="564" width="8" height="8"/>
</g>
<g id="c-st100">
<path class="sw ln" d="M827 614L790 617"/><path class="ap ln" d="M827 614L851 605"/><path class="ff ln" d="M827 614L848 620"/>
<ellipse class="sw cr" cx="790" cy="617" rx="12" ry="8"/><circle class="ap cr" cx="851" cy="605" r="13"/><ellipse class="ff cr" cx="848" cy="620" rx="10" ry="8"/>
<circle class="sw dt" cx="790" cy="617" r="2"/><circle class="ap dt" cx="851" cy="605" r="2"/>
<rect class="pf sq" x="812" y="603" width="8" height="8"/><rect class="pf sq" x="842" y="616" width="8" height="8"/><rect class="ca sq" x="835" y="598" width="6" height="6"/>
</g>
<text class="sl" x="829" y="116">10</text><text class="sl" x="829" y="283">40</text><text class="sl" x="829" y="503">80</text><text class="sl" x="829" y="617">100</text>
<!-- height charts c -->
<g id="c-h0"><path class="bl" d="M882 82H919"/>
<path class="ap st" d="M889 82V66M904 82V58M912 82V56"/><path class="ca st" d="M896 82V57"/>
<circle class="ap dt" cx="889" cy="66" r="3.4"/><circle class="ca dt" cx="896" cy="57" r="3.4"/><circle class="ap dt" cx="904" cy="58" r="3.4"/><circle class="ap dt" cx="912" cy="56" r="3.4"/>
<path class="lg ss" d="M886 82V75M900 82V72M908 82V76"/><g class="lg dt"><rect x="884" y="73" width="4" height="4"/><rect x="898" y="70" width="4" height="4"/><rect x="906" y="74" width="4" height="4"/></g>
<text class="lbl" x="900" y="90">0</text></g>
<g id="c-h10"><path class="bl" d="M735 138H772"/>
<path class="ap st" d="M740 138V110M756 138V108"/><path class="ff st" d="M748 138V108"/><path class="bm st" d="M764 138V110"/>
<circle class="ap dt" cx="740" cy="110" r="3.4"/><circle class="ff dt" cx="748" cy="108" r="3.4"/><circle class="ap dt" cx="756" cy="108" r="3.4"/><circle class="bm dt" cx="764" cy="110" r="3.4"/>
<path class="lg ss" d="M743 138V128M752 138V128"/><path class="mp ss" d="M760 138V130"/><g class="lg dt"><rect x="741" y="126" width="4" height="4"/><rect x="750" y="126" width="4" height="4"/></g><rect class="mp dt" x="758" y="128" width="4" height="4"/>
<text class="lbl" x="753" y="146">10</text></g>
<g id="c-h20"><path class="bl" d="M882 193H919"/>
<path class="ap st" d="M887 193V165M895 193V162M903 193V166M911 193V168"/>
<circle class="ap dt" cx="887" cy="165" r="3.4"/><circle class="ap dt" cx="895" cy="162" r="3.4"/><circle class="ap dt" cx="903" cy="166" r="3.4"/><circle class="ap dt" cx="911" cy="168" r="3.4"/>
<path class="lg ss" d="M891 193V184M899 193V182M907 193V184"/><g class="lg dt"><rect x="889" y="182" width="4" height="4"/><rect x="897" y="180" width="4" height="4"/><rect x="905" y="182" width="4" height="4"/></g>
<text class="lbl" x="900" y="201">20</text></g>
<g id="c-h30"><path class="bl" d="M735 250H772"/>
<path class="ap st" d="M743 250V218M760 250V216"/>
<circle class="ap dt" cx="743" cy="218" r="3.4"/><circle class="ap dt" cx="760" cy="216" r="3.4"/>
<path class="lg ss" d="M739 250V240M750 250V238M766 250V240"/><path class="bm ss" d="M755 250V238"/>
<g class="lg dt"><rect x="737" y="238" width="4" height="4"/><rect x="748" y="236" width="4" height="4"/><rect x="764" y="238" width="4" height="4"/></g><rect class="bm dt" x="753" y="236" width="4" height="4"/>
<text class="lbl" x="753" y="258">30</text></g>
<g id="c-h40"><path class="bl" d="M882 305H919"/>
<path class="ca st" d="M897 305V282M905 305V276M913 305V272"/>
<circle class="ca dt" cx="897" cy="282" r="3.4"/><circle class="ca dt" cx="905" cy="276" r="3.4"/><circle class="ca dt" cx="913" cy="272" r="3.4"/>
<path class="pf ss" d="M887 305V295M893 305V297M909 305V294"/><g class="pf dt"><rect x="885" y="293" width="4" height="4"/><rect x="891" y="295" width="4" height="4"/><rect x="907" y="292" width="4" height="4"/></g>
<text class="lbl" x="900" y="313">40</text></g>
<g id="c-h50"><path class="bl" d="M735 362H772"/>
<path class="es st" d="M744 362V333M760 362V333"/><path class="ap st" d="M752 362V333"/><path class="bm st" d="M767 362V345"/>
<circle class="es dt" cx="744" cy="333" r="3.4"/><circle class="ap dt" cx="752" cy="333" r="3.4"/><circle class="es dt" cx="760" cy="333" r="3.4"/><circle class="bm dt" cx="767" cy="345" r="3.4"/>
<path class="aa ss" d="M740 362V350"/><rect class="aa dt" x="738" y="348" width="4" height="4"/>
<text class="lbl" x="753" y="370">50</text></g>
<g id="c-h60"><path class="bl" d="M882 418H919"/>
<path class="ca st" d="M898 418V386M906 418V382"/><path class="sw st" d="M913 418V390"/>
<circle class="ca dt" cx="898" cy="386" r="3.4"/><circle class="ca dt" cx="906" cy="382" r="3.4"/><circle class="sw dt" cx="913" cy="390" r="3.4"/>
<path class="pr ss" d="M888 418V404"/><path class="mp ss" d="M893 418V406"/><path class="pf ss" d="M902 418V404"/>
<rect class="pr dt" x="886" y="402" width="4" height="4"/><rect class="mp dt" x="891" y="404" width="4" height="4"/><rect class="pf dt" x="900" y="402" width="4" height="4"/>
<text class="lbl" x="900" y="426">60</text></g>
<g id="c-h70"><path class="bl" d="M735 472H772"/>
<path class="ff st" d="M742 472V438"/><path class="ca st" d="M750 472V442M758 472V447"/>
<circle class="ff dt" cx="742" cy="438" r="3.4"/><circle class="ca dt" cx="750" cy="442" r="3.4"/><circle class="ca dt" cx="758" cy="447" r="3.4"/>
<path class="pf ss" d="M746 472V458M762 472V460M767 472V460"/><g class="pf dt"><rect x="744" y="456" width="4" height="4"/><rect x="760" y="458" width="4" height="4"/><rect x="765" y="458" width="4" height="4"/></g>
<text class="lbl" x="753" y="480">70</text></g>
<g id="c-h80"><path class="bl" d="M882 530H919"/>
<path class="ca st" d="M892 530V495"/><path class="ff st" d="M900 530V503M908 530V507"/>
<circle class="ca dt" cx="892" cy="495" r="3.4"/><circle class="ff dt" cx="900" cy="503" r="3.4"/><circle class="ff dt" cx="908" cy="507" r="3.4"/>
<path class="pr ss" d="M913 530V515"/><path class="pf ss" d="M887 530V518"/><rect class="pr dt" x="911" y="513" width="4" height="4"/><rect class="pf dt" x="885" y="516" width="4" height="4"/>
<text class="lbl" x="900" y="538">80</text></g>
<g id="c-h90"><path class="bl" d="M735 585H772"/>
<path class="ff st" d="M740 585V552M748 585V550M757 585V553M765 585V560"/>
<circle class="ff dt" cx="740" cy="552" r="3.4"/><circle class="ff dt" cx="748" cy="550" r="3.4"/><circle class="ff dt" cx="757" cy="553" r="3.4"/><circle class="ff dt" cx="765" cy="560" r="3.4"/>
<path class="pf ss" d="M744 585V570M761 585V572"/><g class="pf dt"><rect x="742" y="568" width="4" height="4"/><rect x="759" y="570" width="4" height="4"/></g>
<text class="lbl" x="753" y="593">90</text></g>
<g id="c-h100"><path class="bl" d="M882 640H919"/>
<path class="ff st" d="M886 640V610"/><path class="sw st" d="M894 640V605"/><path class="ap st" d="M903 640V600"/><path class="ca st" d="M911 640V608"/>
<circle class="ff dt" cx="886" cy="610" r="3.4"/><circle class="sw dt" cx="894" cy="605" r="3.4"/><circle class="ap dt" cx="903" cy="600" r="3.4"/><circle class="ca dt" cx="911" cy="608" r="3.4"/>
<path class="pf ss" d="M889 640V625M899 640V628"/><g class="pf dt"><rect x="887" y="623" width="4" height="4"/><rect x="897" y="626" width="4" height="4"/></g>
<text class="lbl" x="900" y="648">100</text></g>
<g id="c-legend">
<circle class="ap dt" cx="941" cy="61" r="3.5"/><text class="leg" x="949" y="63.8">Bursera aptera</text>
<circle class="bm dt" cx="941" cy="71.5" r="3.5"/><text class="leg" x="949" y="74.3">Bursera morelensis</text>
<circle class="ca dt" cx="941" cy="82" r="3.5"/><text class="leg" x="949" y="84.8">Ceiba aesculifolia</text>
<circle class="es dt" cx="941" cy="92.5" r="3.5"/><text class="leg" x="949" y="95.3">Euphorbia schlechtendalii</text>
<circle class="ff dt" cx="941" cy="103" r="3.5"/><text class="leg" x="949" y="105.8">Fouquieria formosa</text>
<circle class="pr dt" cx="941" cy="113.5" r="3.5"/><text class="leg" x="949" y="116.3">Plumeria rubra</text>
<circle class="sw dt" cx="941" cy="124" r="3.5"/><text class="leg" x="949" y="126.8">Senna wislizeni var. pringlei</text>
<rect class="pf dt" x="939.3" y="132.8" width="3.5" height="3.5"/><text class="leg" x="949" y="137.3">Parthenium fruticosum</text>
<rect class="lg dt" x="939.3" y="143.3" width="3.5" height="3.5"/><text class="leg" x="949" y="147.8">Lippia graveolens</text>
<rect class="mp dt" x="939.3" y="153.8" width="3.5" height="3.5"/><text class="leg" x="949" y="158.3">Mimosa polyantha</text>
<rect class="rn dt" x="939.3" y="164.3" width="3.5" height="3.5"/><text class="leg" x="949" y="168.8">Randia nelsonii</text>
</g>
<g id="c-scale"><path d="M738 638H766" stroke="#333" stroke-width="1.2" stroke-dasharray="4 2"/><text class="sl" x="739" y="646">0</text><text class="sl" x="765" y="646">5m</text></g>
<g id="c-label"><circle class="lc" cx="745" cy="662" r="14"/><text class="lt" x="745" y="668">c</text><text class="tt" x="1039" y="671">Transect 3</text></g>
</g>

<!-- ================= PANEL D ================= -->
<g id="panel-d">
<rect class="fr" x="11" y="689" width="333" height="680" rx="20" stroke="#8CC56A"/>
<path class="tl" d="M118 700V1300" stroke="#96CB70"/>
<g id="d-st0">
<path class="ca ln" d="M118 722L96 722M118 722L140 718"/><path class="pp ln" d="M118 722L140 722"/>
<ellipse class="ca cr" cx="96" cy="722" rx="12" ry="8"/><ellipse class="ca cr" cx="140" cy="722" rx="22" ry="18"/>
<circle class="ca dt" cx="96" cy="722" r="2"/><circle class="pp dt" cx="142" cy="724" r="2"/>
<rect class="pf sq" x="134" y="711" width="8" height="8"/><rect class="lg dt" x="112" y="726" width="3" height="3"/>
</g>
<g id="d-st10">
<path class="pp ln" d="M118 777L96 770"/><path class="es ln" d="M118 777L150 768"/><path class="lg ln" d="M118 777L115 775"/>
<ellipse class="pp cr" cx="96" cy="770" rx="22" ry="18"/><ellipse class="es cr" cx="150" cy="768" rx="14" ry="8"/>
<circle class="pp dt" cx="96" cy="770" r="2"/><circle class="es dt" cx="150" cy="768" r="2"/><circle class="ap dt" cx="155" cy="768" r="2"/>
<rect class="lg sq" x="111" y="771" width="8" height="8"/><rect class="ae sq" x="134" y="784" width="12" height="12"/><rect class="jc dt" x="125" y="790" width="3" height="3"/>
</g>
<g id="d-st20">
<path class="pl ln" d="M118 833L92 828"/><path class="ap ln" d="M118 833L105 845"/><path class="pp ln" d="M118 833L140 833"/>
<ellipse class="pl cr" cx="92" cy="828" rx="10" ry="8"/><ellipse class="ap cr" cx="105" cy="845" rx="12" ry="10"/><ellipse class="pp cr" cx="140" cy="833" rx="12" ry="8"/>
<circle class="pl dt" cx="92" cy="828" r="2"/><circle class="ap dt" cx="105" cy="845" r="2"/><circle class="pp dt" cx="140" cy="833" r="2"/>
<rect class="lg sq" x="110" y="829" width="7" height="7"/><rect class="rn sq" x="126" y="840" width="14" height="12"/><rect class="mp sq" x="114" y="843" width="6" height="6"/>
</g>
<g id="d-st30">
<path class="es ln" d="M118 890L102 885"/><path class="ca ln" d="M118 890L125 893"/><path class="sw ln" d="M118 890L105 900"/>
<ellipse class="es cr" cx="102" cy="885" rx="13" ry="10"/><circle class="ca cr" cx="125" cy="888" r="15"/><ellipse class="sw cr" cx="105" cy="900" rx="14" ry="8"/>
<circle class="es dt" cx="102" cy="885" r="2"/><circle class="ca dt" cx="125" cy="893" r="2"/><circle class="sw dt" cx="105" cy="900" r="2"/>
<rect class="pf sq" x="122" y="900" width="16" height="12"/>
</g>
<g id="d-st40">
<path class="ca ln" d="M118 948L88 953M118 948L140 958"/><path class="ap ln" d="M118 948L126 935"/><path class="es ln" d="M118 948L155 942"/>
<ellipse class="ca cr" cx="88" cy="953" rx="30" ry="22"/><ellipse class="ap cr" cx="126" cy="935" rx="18" ry="12"/><ellipse class="es cr" cx="155" cy="942" rx="12" ry="10"/><ellipse class="ca cr" cx="140" cy="960" rx="22" ry="18"/>
<circle class="ca dt" cx="88" cy="953" r="2"/><circle class="ap dt" cx="126" cy="935" r="2"/><circle class="es dt" cx="155" cy="942" r="2"/><circle class="ca dt" cx="140" cy="958" r="2"/>
<rect class="pf sq" x="112" y="945" width="14" height="12"/><rect class="pf sq" x="130" y="932" width="8" height="8"/>
</g>
<g id="d-st50">
<path class="ap ln" d="M118 1003L100 998"/><path class="ca ln" d="M118 1003L150 1000"/>
<ellipse class="ap cr" cx="100" cy="998" rx="14" ry="12"/><ellipse class="ca cr" cx="150" cy="1000" rx="20" ry="12"/>
<circle class="ap dt" cx="100" cy="998" r="2"/><circle class="ca dt" cx="150" cy="1000" r="2"/>
<rect class="pf sq" x="108" y="990" width="22" height="17"/>
</g>
<g id="d-st60">
<path class="ca ln" d="M118 1058L85 1048"/><path class="ap ln" d="M118 1058L148 1055M118 1058L108 1070"/>
<ellipse class="ca cr" cx="85" cy="1048" rx="12" ry="10"/><circle class="ap cr" cx="148" cy="1055" r="10"/><circle class="ap cr" cx="108" cy="1070" r="8"/>
<circle class="ca dt" cx="85" cy="1048" r="2"/><circle class="ap dt" cx="148" cy="1055" r="2"/><circle class="ap dt" cx="108" cy="1070" r="2"/>
<rect class="pf sq" x="100" y="1071" width="8" height="8"/><rect class="mp sq" x="113" y="1052" width="8" height="8"/>
</g>
<g id="d-st70">
<path class="pp ln" d="M118 1115L100 1110"/><path class="ca ln" d="M118 1115L88 1128"/><path class="pf ln" d="M118 1115L137 1130"/>
<circle class="pp cr" cx="100" cy="1110" r="10"/><ellipse class="ca cr" cx="88" cy="1128" rx="28" ry="14"/>
<circle class="pp dt" cx="100" cy="1110" r="2"/><circle class="ca dt" cx="88" cy="1128" r="2"/>
<rect class="pf sq" x="126" y="1120" width="20" height="17"/><rect class="rn sq" x="128" y="1096" width="14" height="12"/><rect class="mp dt" x="110" y="1120" width="3" height="3"/>
</g>
<g id="d-st80">
<path class="pp ln" d="M118 1170L95 1160"/><path class="ca ln" d="M118 1170L150 1185"/><path class="bm ln" d="M118 1170L108 1172"/>
<circle class="pp cr" cx="95" cy="1160" r="25"/><ellipse class="ca cr" cx="150" cy="1185" rx="40" ry="30"/><circle class="bm cr" cx="108" cy="1172" r="10"/>
<circle class="pp dt" cx="95" cy="1160" r="2"/><circle class="ca dt" cx="150" cy="1185" r="2"/>
<rect class="rn sq" x="131" y="1180" width="16" height="14"/><rect class="cc sq" x="109" y="1162" width="7" height="7"/><rect class="mp dt" x="120" y="1176" width="3" height="3"/>
</g>
<g id="d-st90">
<path class="ca ln" d="M118 1225L103 1225M118 1225L120 1232"/><path class="ap ln" d="M118 1225L140 1220"/>
<circle class="ca cr" cx="103" cy="1225" r="13"/><circle class="ap cr" cx="140" cy="1220" r="10"/><circle class="ca cr" cx="120" cy="1232" r="8"/>
<circle class="ca dt" cx="103" cy="1225" r="2"/><circle class="ap dt" cx="140" cy="1220" r="2"/>
<rect class="pf sq" x="123" y="1212" width="8" height="8"/><rect class="lg dt" x="112" y="1230" width="3" height="3"/>
</g>
<g id="d-st100">
<path class="ca ln" d="M118 1283L98 1278"/><path class="ap ln" d="M118 1283L133 1278"/>
<circle class="ca cr" cx="98" cy="1278" r="10"/><ellipse class="ap cr" cx="133" cy="1278" rx="15" ry="12"/>
<circle class="ca dt" cx="98" cy="1278" r="2"/><circle class="ap dt" cx="133" cy="1278" r="2"/>
<rect class="lg sq" x="112" y="1280" width="7" height="7"/><rect class="mp sq" x="122" y="1283" width="6" height="6"/>
</g>
<text class="sl" x="120" y="1006">50</text><text class="sl" x="120" y="1061">60</text><text class="sl" x="120" y="1286">100</text>
<!-- height charts d -->
<g id="d-h0"><path class="bl" d="M178 755H215"/>
<path class="ca st" d="M197 755V722"/><path class="pp st" d="M205 755V716"/>
<circle class="ca dt" cx="197" cy="722" r="3.4"/><circle class="pp dt" cx="205" cy="716" r="3.4"/>
<path class="lg ss" d="M186 755V745"/><path class="mp ss" d="M192 755V747"/><rect class="lg dt" x="184" y="743" width="4" height="4"/><rect class="mp dt" x="190" y="745" width="4" height="4"/>
<text class="lbl" x="196" y="763">0</text></g>
<g id="d-h10"><path class="bl" d="M28 810H65"/>
<path class="ap st" d="M35 810V770"/><path class="pp st" d="M45 810V768"/><path class="ca st" d="M52 810V768"/>
<circle class="ap dt" cx="35" cy="770" r="3.4"/><circle class="pp dt" cx="45" cy="768" r="3.4"/><circle class="ca dt" cx="52" cy="768" r="3.4"/>
<path class="jc ss" d="M40 810V796M58 810V795"/><path class="lg ss" d="M62 810V797"/><g class="jc dt"><rect x="38" y="794" width="4" height="4"/><rect x="56" y="793" width="4" height="4"/></g><rect class="lg dt" x="60" y="795" width="4" height="4"/>
<text class="lbl" x="46" y="818">10</text></g>
<g id="d-h20"><path class="bl" d="M178 865H215"/>
<path class="ap st" d="M182 865V826"/><path class="ca st" d="M190 865V832"/><path class="sw st" d="M197 865V840"/><path class="pl st" d="M205 865V845"/>
<circle class="ap dt" cx="182" cy="826" r="3.4"/><circle class="ca dt" cx="190" cy="832" r="3.4"/><circle class="sw dt" cx="197" cy="840" r="3.4"/><circle class="pl dt" cx="205" cy="845" r="3.4"/>
<path class="pf ss" d="M201 865V852"/><path class="rn ss" d="M210 865V855"/><rect class="pf dt" x="199" y="850" width="4" height="4"/><rect class="rn dt" x="208" y="853" width="4" height="4"/>
<text class="lbl" x="196" y="873">20</text></g>
<g id="d-h30"><path class="bl" d="M28 920H65"/>
<path class="ap st" d="M34 920V905"/><path class="pl st" d="M42 920V877"/><path class="es st" d="M50 920V895"/><path class="pp st" d="M58 920V895"/>
<circle class="ap dt" cx="34" cy="905" r="3.4"/><circle class="pl dt" cx="42" cy="877" r="3.4"/><circle class="es dt" cx="50" cy="895" r="3.4"/><circle class="pp dt" cx="58" cy="895" r="3.4"/>
<path class="sw ss" d="M46 920V908"/><path class="pf ss" d="M62 920V910"/><rect class="sw dt" x="44" y="906" width="4" height="4"/><rect class="pf dt" x="60" y="908" width="4" height="4"/>
<text class="lbl" x="46" y="928">30</text></g>
<g id="d-h40"><path class="bl" d="M178 980H215"/>
<path class="ca st" d="M183 980V920M191 980V928"/><path class="ap st" d="M198 980V940"/><path class="es st" d="M206 980V948"/>
<circle class="ca dt" cx="183" cy="920" r="3.4"/><circle class="ca dt" cx="191" cy="928" r="3.4"/><circle class="ap dt" cx="198" cy="940" r="3.4"/><circle class="es dt" cx="206" cy="948" r="3.4"/>
<path class="pf ss" d="M202 980V965M211 980V967"/><g class="pf dt"><rect x="200" y="963" width="4" height="4"/><rect x="209" y="965" width="4" height="4"/></g>
<text class="lbl" x="196" y="988">40</text></g>
<g id="d-h50"><path class="bl" d="M28 1030H65"/>
<path class="ap st" d="M34 1030V998M42 1030V1000"/><path class="ff st" d="M50 1030V1003"/>
<circle class="ap dt" cx="34" cy="998" r="3.4"/><circle class="ap dt" cx="42" cy="1000" r="3.4"/><circle class="ff dt" cx="50" cy="1003" r="3.4"/>
<path class="pf ss" d="M38 1030V1018M55 1030V1016M61 1030V1018"/><g class="pf dt"><rect x="36" y="1016" width="4" height="4"/><rect x="53" y="1014" width="4" height="4"/><rect x="59" y="1016" width="4" height="4"/></g>
<text class="lbl" x="46" y="1038">50</text></g>
<g id="d-h60"><path class="bl" d="M178 1090H215"/>
<path class="ca st" d="M183 1090V1065"/><path class="ap st" d="M191 1090V1058M199 1090V1068"/>
<circle class="ca dt" cx="183" cy="1065" r="3.4"/><circle class="ap dt" cx="191" cy="1058" r="3.4"/><circle class="ap dt" cx="199" cy="1068" r="3.4"/>
<path class="pf ss" d="M195 1090V1078"/><path class="mp ss" d="M204 1090V1080"/><path class="rn ss" d="M209 1090V1078"/>
<rect class="pf dt" x="193" y="1076" width="4" height="4"/><rect class="mp dt" x="202" y="1078" width="4" height="4"/><rect class="rn dt" x="207" y="1076" width="4" height="4"/>
<text class="lbl" x="196" y="1098">60</text></g>
<g id="d-h70"><path class="bl" d="M24 1145H61"/>
<path class="ca st" d="M30 1145V1110"/><path class="ff st" d="M38 1145V1106"/>
<circle class="ca dt" cx="30" cy="1110" r="3.4"/><circle class="ff dt" cx="38" cy="1106" r="3.4"/>
<path class="pf ss" d="M34 1145V1128M44 1145V1130M50 1145V1126"/><path class="rn ss" d="M55 1145V1132"/>
<g class="pf dt"><rect x="32" y="1126" width="4" height="4"/><rect x="42" y="1128" width="4" height="4"/><rect x="48" y="1124" width="4" height="4"/></g><rect class="rn dt" x="53" y="1130" width="4" height="4"/>
<text class="lbl" x="42" y="1153">70</text></g>
<g id="d-h80"><path class="bl" d="M190 1200H227"/>
<path class="ca st" d="M200 1200V1140M208 1200V1142M216 1200V1152"/>
<circle class="ca dt" cx="200" cy="1140" r="3.4"/><circle class="ca dt" cx="208" cy="1142" r="3.4"/><circle class="ca dt" cx="216" cy="1152" r="3.4"/>
<path class="cc ss" d="M204 1200V1188"/><path class="rn ss" d="M212 1200V1182"/><path class="pf ss" d="M196 1200V1185"/>
<rect class="cc dt" x="202" y="1186" width="4" height="4"/><rect class="rn dt" x="210" y="1180" width="4" height="4"/><rect class="pf dt" x="194" y="1183" width="4" height="4"/>
<text class="lbl" x="208" y="1208">80</text></g>
<g id="d-h90"><path class="bl" d="M28 1255H65"/>
<path class="sw st" d="M35 1255V1228"/><path class="ap st" d="M45 1255V1237"/>
<circle class="sw dt" cx="35" cy="1228" r="3.4"/><circle class="ap dt" cx="45" cy="1237" r="3.4"/>
<path class="lg ss" d="M50 1255V1242M58 1255V1244"/><path class="mp ss" d="M40 1255V1243"/>
<g class="lg dt"><rect x="48" y="1240" width="4" height="4"/><rect x="56" y="1242" width="4" height="4"/></g><rect class="mp dt" x="38" y="1241" width="4" height="4"/>
<text class="lbl" x="46" y="1263">90</text></g>
<g id="d-h100"><path class="bl" d="M178 1310H215"/>
<path class="bm st" d="M182 1310V1272"/><path class="ap st" d="M190 1310V1275M200 1310V1275"/>
<circle class="bm dt" cx="182" cy="1272" r="3.4"/><circle class="ap dt" cx="190" cy="1275" r="3.4"/><circle class="ap dt" cx="200" cy="1275" r="3.4"/>
<path class="lg ss" d="M186 1310V1296M205 1310V1298"/><path class="pr ss" d="M195 1310V1294"/>
<g class="lg dt"><rect x="184" y="1294" width="4" height="4"/><rect x="203" y="1296" width="4" height="4"/></g><rect class="pr dt" x="193" y="1292" width="4" height="4"/>
<text class="lbl" x="196" y="1318">100</text></g>
<g id="d-legend">
<circle class="ap dt" cx="234" cy="731.7" r="3.5"/><text class="leg" x="242" y="734.5">Bursera aptera</text>
<circle class="ca dt" cx="234" cy="742.1" r="3.5"/><text class="leg" x="242" y="744.9">Ceiba aesculifolia</text>
<circle class="es dt" cx="234" cy="752.5" r="3.5"/><text class="leg" x="242" y="755.3">Euphorbia schlechtendalii</text>
<circle class="ff dt" cx="234" cy="762.8" r="3.5"/><text class="leg" x="242" y="765.6">Fouquieria formosa</text>
<circle class="pp dt" cx="234" cy="773.2" r="3.5"/><text class="leg" x="242" y="776">Parkinsonia praecox</text>
<circle class="pr dt" cx="234" cy="783.6" r="3.5"/><text class="leg" x="242" y="786.4">Plumeria rubra</text>
<circle class="pl dt" cx="234" cy="794" r="3.5"/><text class="leg" x="242" y="796.8">Prosopis laevigata</text>
<circle class="sw dt" cx="234" cy="804.3" r="3.5"/><text class="leg" x="242" y="807.1">Senna wislizeni var. pringlei</text>
<circle cx="234" cy="814.7" r="3.5" fill="#C8502C" stroke="#8A5A30" stroke-width="1"/><text class="leg" x="242" y="817.5">Ziziphus pedunculata</text>
<rect class="aa dt" x="232.3" y="823.3" width="3.5" height="3.5"/><text class="leg" x="242" y="827.9">Acaciella angustissima</text>
<rect class="jc dt" x="232.3" y="833.7" width="3.5" height="3.5"/><text class="leg" x="242" y="838.3">Justicia candicans</text>
<rect class="ae dt" x="232.3" y="844.1" width="3.5" height="3.5"/><text class="leg" x="242" y="848.6">Aeschynomene compacta</text>
<rect class="pf dt" x="232.3" y="854.5" width="3.5" height="3.5"/><text class="leg" x="242" y="859">Parthenium fruticosum</text>
<rect class="cc dt" x="232.3" y="864.9" width="3.5" height="3.5"/><text class="leg" x="242" y="869.4">Cordia curassavica</text>
<rect class="lg dt" x="232.3" y="875.2" width="3.5" height="3.5"/><text class="leg" x="242" y="879.8">Lippia graveolens</text>
<rect class="mp dt" x="232.3" y="885.6" width="3.5" height="3.5"/><text class="leg" x="242" y="890.1">Mimosa polyantha</text>
<rect class="rn dt" x="232.3" y="896" width="3.5" height="3.5"/><text class="leg" x="242" y="900.5">Randia nelsonii</text>
</g>
<g id="d-scale"><path d="M30 1310H58" stroke="#333" stroke-width="1.2" stroke-dasharray="4 2"/><text class="sl" x="31" y="1318">0</text><text class="sl" x="57" y="1318">5m</text></g>
<g id="d-label"><circle class="lc" cx="43" cy="1333" r="14"/><text class="lt" x="43" y="1339">d</text><text class="tt" x="329" y="1343">Transect 4</text></g>
</g>

<!-- ================= PANEL E ================= -->
<g id="panel-e">
<rect class="fr" x="350" y="689" width="370" height="680" rx="20" stroke="#A6D5EA"/>
<path class="tl" d="M466 705V1300" stroke="#A9D8EC"/>
<g id="e-st0">
<path class="sw ln" d="M466 728L434 721"/><path class="ap ln" d="M466 728L508 718"/><path class="es ln" d="M466 728L487 731"/><path class="lg ln" d="M466 728L470 730"/>
<circle class="sw cr" cx="434" cy="721" r="13"/><ellipse class="ap cr" cx="508" cy="718" rx="12" ry="10"/><ellipse class="es cr" cx="487" cy="730" rx="16" ry="12"/>
<circle class="sw dt" cx="434" cy="721" r="2"/><circle class="ap dt" cx="508" cy="718" r="2"/><circle class="es dt" cx="487" cy="731" r="2"/>
<rect class="lg sq" x="466" y="726" width="8" height="8"/><rect class="lg sq" x="448" y="719" width="6" height="6"/>
</g>
<g id="e-st10">
<path class="ca ln" d="M466 783L470 780"/><path class="ap ln" d="M466 783L498 773"/><path class="lg ln" d="M466 783L462 795M466 783L485 793"/>
<ellipse class="ca cr" cx="470" cy="780" rx="14" ry="10"/><circle class="ap cr" cx="498" cy="773" r="8"/>
<circle class="ca dt" cx="472" cy="780" r="2"/><circle class="ap dt" cx="498" cy="773" r="2"/><circle class="ff dt" cx="488" cy="788" r="2"/>
<rect class="lg sq" x="458" y="791" width="8" height="8"/><rect class="lg sq" x="481" y="789" width="8" height="8"/>
</g>
<g id="e-st20">
<path class="ca ln" d="M466 838L490 840"/><path class="lg ln" d="M466 838L463 845"/>
<circle class="ca cr" cx="490" cy="838" r="18"/><circle class="ca dt" cx="490" cy="840" r="2"/><circle class="ca dt" cx="455" cy="832" r="2"/>
<rect class="mp sq" x="476" y="822" width="15" height="14"/><rect class="aa sq" x="452" y="826" width="8" height="8"/><rect class="lg sq" x="459" y="842" width="7" height="7"/>
</g>
<g id="e-st30">
<path class="ca ln" d="M466 893L470 893M466 893L440 898"/><path class="rn ln" d="M466 893L456 905"/>
<ellipse class="ca cr" cx="470" cy="891" rx="28" ry="14"/><circle class="ca cr" cx="440" cy="898" r="6"/>
<circle class="ca dt" cx="472" cy="893" r="2"/><circle class="ca dt" cx="440" cy="898" r="2"/>
<rect class="rn sq" x="452" y="902" width="6" height="6"/>
</g>
<g id="e-st40">
<path class="ca ln" d="M466 948L445 945M466 948L500 955"/><path class="pf ln" d="M466 948L480 941"/><path class="lg ln" d="M466 948L433 962M466 948L462 955"/>
<ellipse class="ca cr" cx="445" cy="945" rx="22" ry="18"/><ellipse class="ca cr" cx="500" cy="955" rx="30" ry="22"/>
<circle class="ca dt" cx="445" cy="945" r="2"/><circle class="ca dt" cx="500" cy="955" r="2"/>
<rect class="pf sq" x="475" y="936" width="10" height="10"/><rect class="lg sq" x="430" y="959" width="6" height="6"/><rect class="lg sq" x="458" y="952" width="7" height="7"/>
</g>
<g id="e-st50">
<path class="ca ln" d="M466 1003L440 1000M466 1003L490 1003"/>
<ellipse class="ca cr" cx="440" cy="1000" rx="20" ry="10"/><circle class="ca cr" cx="490" cy="1003" r="10"/>
<circle class="ca dt" cx="440" cy="1000" r="2"/><circle class="ca dt" cx="490" cy="1003" r="2"/>
<rect class="rn sq" x="464" y="999" width="8" height="8"/>
</g>
<g id="e-st60">
<path class="bm ln" d="M466 1058L450 1052"/><path class="ap ln" d="M466 1058L490 1058"/><path class="lg ln" d="M466 1058L475 1056"/>
<ellipse class="bm cr" cx="450" cy="1052" rx="15" ry="16"/><ellipse class="ap cr" cx="490" cy="1058" rx="12" ry="10"/>
<circle class="bm dt" cx="450" cy="1052" r="2"/><circle class="ap dt" cx="490" cy="1058" r="2"/>
<rect class="lg sq" x="471" y="1052" width="7" height="7"/><rect class="lg sq" x="467" y="1062" width="7" height="7"/>
</g>
<g id="e-st70">
<path class="ff ln" d="M466 1115L502 1110"/><path class="ap ln" d="M466 1115L448 1113"/>
<circle class="ff cr" cx="502" cy="1110" r="10"/><circle class="ap cr" cx="448" cy="1113" r="8"/>
<circle class="ff dt" cx="502" cy="1110" r="2"/><circle class="ap dt" cx="448" cy="1113" r="2"/>
<rect class="lg sq" x="466" y="1106" width="8" height="8"/><rect class="lg sq" x="466" y="1118" width="8" height="8"/><rect class="aa sq" x="478" y="1104" width="7" height="7"/>
</g>
<g id="e-st80">
<path class="ff ln" d="M466 1170L494 1170"/><path class="ap ln" d="M466 1170L440 1166"/><path class="lg ln" d="M466 1170L460 1178M466 1170L482 1180"/>
<ellipse class="ff cr" cx="494" cy="1170" rx="15" ry="13"/><circle class="ap cr" cx="440" cy="1166" r="10"/>
<circle class="ff dt" cx="494" cy="1170" r="2"/><circle class="ap dt" cx="440" cy="1166" r="2"/>
<rect class="lg sq" x="456" y="1174" width="8" height="8"/><rect class="lg sq" x="476" y="1174" width="12" height="12"/>
</g>
<g id="e-st90">
<path class="ca ln" d="M466 1227L443 1225"/><path class="ff ln" d="M466 1227L496 1232"/><path class="lg ln" d="M466 1227L459 1238M466 1227L478 1237"/>
<circle class="ca cr" cx="443" cy="1225" r="20"/><circle class="ff cr" cx="496" cy="1232" r="10"/>
<circle class="ca dt" cx="443" cy="1225" r="2"/><circle class="ff dt" cx="496" cy="1232" r="2"/>
<rect class="lg sq" x="455" y="1234" width="8" height="8"/><rect class="lg sq" x="474" y="1233" width="8" height="8"/>
</g>
<g id="e-st100">
<path class="ca ln" d="M466 1283L435 1290"/><path class="bs ln" d="M466 1283L497 1293"/><path class="lg ln" d="M466 1283L463 1285M466 1283L475 1283"/>
<circle class="ca cr" cx="435" cy="1290" r="26"/><circle class="bs cr" cx="497" cy="1293" r="18"/>
<circle class="ca dt" cx="435" cy="1290" r="2"/><circle class="bs dt" cx="497" cy="1293" r="2"/><circle class="ap dt" cx="490" cy="1278" r="2"/>
<rect class="lg sq" x="458" y="1280" width="9" height="9"/><rect class="lg sq" x="471" y="1278" width="9" height="9"/>
</g>
<text class="sl" x="468" y="786">10</text><text class="sl" x="468" y="841">20</text><text class="sl" x="468" y="1061">60</text><text class="sl" x="468" y="1118">70</text><text class="sl" x="468" y="1286">100</text>
<!-- height charts e -->
<g id="e-h0"><path class="bl" d="M544 752H581"/>
<path class="es st" d="M550 752V715"/><path class="ap st" d="M558 752V720M566 752V725"/>
<circle class="es dt" cx="550" cy="715" r="3.4"/><circle class="ap dt" cx="558" cy="720" r="3.4"/><circle class="ap dt" cx="566" cy="725" r="3.4"/>
<path class="lg ss" d="M554 752V740M571 752V742"/><path class="aa ss" d="M576 752V743"/><g class="lg dt"><rect x="552" y="738" width="4" height="4"/><rect x="569" y="740" width="4" height="4"/></g><rect class="aa dt" x="574" y="741" width="4" height="4"/>
<text class="lbl" x="562" y="760">0</text></g>
<g id="e-h10"><path class="bl" d="M365 805H402"/>
<path class="ca st" d="M372 805V773"/><path class="ap st" d="M388 805V775"/>
<circle class="ca dt" cx="372" cy="773" r="3.4"/><circle class="ap dt" cx="388" cy="775" r="3.4"/>
<path class="lg ss" d="M377 805V795M394 805V793"/><path class="ff ss" d="M382 805V790"/><g class="lg dt"><rect x="375" y="793" width="4" height="4"/><rect x="392" y="791" width="4" height="4"/></g><rect class="ff dt" x="380" y="788" width="4" height="4"/>
<text class="lbl" x="383" y="813">10</text></g>
<g id="e-h20"><path class="bl" d="M544 860H581"/>
<path class="ap st" d="M550 860V825"/><path class="ca st" d="M558 860V830"/><path class="ff st" d="M573 860V828"/>
<circle class="ap dt" cx="550" cy="825" r="3.4"/><circle class="ca dt" cx="558" cy="830" r="3.4"/><circle class="ff dt" cx="573" cy="828" r="3.4"/>
<path class="aa ss" d="M554 860V848"/><path class="lg ss" d="M564 860V846"/><path class="mp ss" d="M568 860V850"/>
<rect class="aa dt" x="552" y="846" width="4" height="4"/><rect class="lg dt" x="562" y="844" width="4" height="4"/><rect class="mp dt" x="566" y="848" width="4" height="4"/>
<text class="lbl" x="562" y="868">20</text></g>
<g id="e-h30"><path class="bl" d="M365 917H402"/>
<path class="ca st" d="M372 917V885M380 917V890"/>
<circle class="ca dt" cx="372" cy="885" r="3.4"/><circle class="ca dt" cx="380" cy="890" r="3.4"/>
<path class="rn ss" d="M386 917V905"/><path class="lg ss" d="M392 917V903"/><rect class="rn dt" x="384" y="903" width="4" height="4"/><rect class="lg dt" x="390" y="901" width="4" height="4"/>
<text class="lbl" x="383" y="925">30</text></g>
<g id="e-h40"><path class="bl" d="M544 975H581"/>
<path class="ca st" d="M552 975V940M560 975V938M568 975V940"/><path class="ap st" d="M576 975V940"/>
<circle class="ca dt" cx="552" cy="940" r="3.4"/><circle class="ca dt" cx="560" cy="938" r="3.4"/><circle class="ca dt" cx="568" cy="940" r="3.4"/><circle class="ap dt" cx="576" cy="940" r="3.4"/>
<path class="pf ss" d="M556 975V962"/><path class="lg ss" d="M572 975V964"/><rect class="pf dt" x="554" y="960" width="4" height="4"/><rect class="lg dt" x="570" y="962" width="4" height="4"/>
<text class="lbl" x="562" y="983">40</text></g>
<g id="e-h50"><path class="bl" d="M365 1030H402"/>
<path class="ap st" d="M372 1030V1000M390 1030V1000"/>
<circle class="ap dt" cx="372" cy="1000" r="3.4"/><circle class="ap dt" cx="390" cy="1000" r="3.4"/>
<path class="rn ss" d="M378 1030V1016M384 1030V1018"/><path class="lg ss" d="M395 1030V1018"/>
<g class="rn dt"><rect x="376" y="1014" width="4" height="4"/><rect x="382" y="1016" width="4" height="4"/></g><rect class="lg dt" x="393" y="1016" width="4" height="4"/>
<text class="lbl" x="383" y="1038">50</text></g>
<g id="e-h60"><path class="bl" d="M544 1088H581"/>
<path class="ff st" d="M558 1088V1065"/><path class="ap st" d="M572 1088V1062"/>
<circle class="ff dt" cx="558" cy="1065" r="3.4"/><circle class="ap dt" cx="572" cy="1062" r="3.4"/>
<path class="lg ss" d="M552 1088V1076M564 1088V1074"/><path class="pf ss" d="M577 1088V1076"/>
<g class="lg dt"><rect x="550" y="1074" width="4" height="4"/><rect x="562" y="1072" width="4" height="4"/></g><rect class="pf dt" x="575" y="1074" width="4" height="4"/>
<text class="lbl" x="562" y="1096">60</text></g>
<g id="e-h70"><path class="bl" d="M365 1143H402"/>
<path class="ff st" d="M377 1143V1113"/><path class="ap st" d="M391 1143V1112"/>
<circle class="ff dt" cx="377" cy="1113" r="3.4"/><circle class="ap dt" cx="391" cy="1112" r="3.4"/>
<path class="lg ss" d="M371 1143V1130M384 1143V1128M396 1143V1130"/>
<g class="lg dt"><rect x="369" y="1128" width="4" height="4"/><rect x="382" y="1126" width="4" height="4"/><rect x="394" y="1128" width="4" height="4"/></g>
<text class="lbl" x="383" y="1151">70</text></g>
<g id="e-h80"><path class="bl" d="M544 1198H581"/>
<path class="ap st" d="M552 1198V1168"/><path class="ff st" d="M570 1198V1170"/>
<circle class="ap dt" cx="552" cy="1168" r="3.4"/><circle class="ff dt" cx="570" cy="1170" r="3.4"/>
<path class="lg ss" d="M558 1198V1184M564 1198V1186M576 1198V1186"/>
<g class="lg dt"><rect x="556" y="1182" width="4" height="4"/><rect x="562" y="1184" width="4" height="4"/><rect x="574" y="1184" width="4" height="4"/></g>
<text class="lbl" x="562" y="1206">80</text></g>
<g id="e-h90"><path class="bl" d="M365 1255H402"/>
<path class="ap st" d="M370 1255V1225M391 1255V1230"/><path class="ff st" d="M383 1255V1228"/>
<circle class="ap dt" cx="370" cy="1225" r="3.4"/><circle class="ff dt" cx="383" cy="1228" r="3.4"/><circle class="ap dt" cx="391" cy="1230" r="3.4"/>
<path class="lg ss" d="M376 1255V1242M396 1255V1244"/><g class="lg dt"><rect x="374" y="1240" width="4" height="4"/><rect x="394" y="1242" width="4" height="4"/></g>
<text class="lbl" x="383" y="1263">90</text></g>
<g id="e-h100"><path class="bl" d="M544 1310H581"/>
<path class="ff st" d="M552 1310V1285M562 1310V1285"/><path class="ap st" d="M570 1310V1282"/>
<circle class="ff dt" cx="552" cy="1285" r="3.4"/><circle class="ff dt" cx="562" cy="1285" r="3.4"/><circle class="ap dt" cx="570" cy="1282" r="3.4"/>
<path class="lg ss" d="M557 1310V1298M566 1310V1296M576 1310V1298"/>
<g class="lg dt"><rect x="555" y="1296" width="4" height="4"/><rect x="564" y="1294" width="4" height="4"/><rect x="574" y="1296" width="4" height="4"/></g>
<text class="lbl" x="562" y="1318">100</text></g>
<g id="e-legend">
<circle class="ap dt" cx="607" cy="731" r="3.5"/><text class="leg" x="614" y="733.8">Bursera aptera</text>
<circle class="bm dt" cx="607" cy="741.3" r="3.5"/><text class="leg" x="614" y="744.1">Bursera morelensis</text>
<circle class="bs dt" cx="607" cy="751.5" r="3.5"/><text class="leg" x="614" y="754.3">Bursera submoniliformis</text>
<circle class="ca dt" cx="607" cy="761.8" r="3.5"/><text class="leg" x="614" y="764.6">Ceiba aesculifolia</text>
<circle class="es dt" cx="607" cy="772" r="3.5"/><text class="leg" x="614" y="774.8">Euphorbia schlechtendalii</text>
<circle class="ff dt" cx="607" cy="782.3" r="3.5"/><text class="leg" x="614" y="785.1">Fouquieria formosa</text>
<circle class="sw dt" cx="607" cy="792.5" r="3.5"/><text class="leg" x="614" y="795.3">Senna wislizeni var. pringlei</text>
<rect class="aa dt" x="605.3" y="801" width="3.5" height="3.5"/><text class="leg" x="614" y="805.6">Acaciella angustissima</text>
<rect class="pf dt" x="605.3" y="811.3" width="3.5" height="3.5"/><text class="leg" x="614" y="815.8">Parthenium fruticosum</text>
<rect class="lg dt" x="605.3" y="821.5" width="3.5" height="3.5"/><text class="leg" x="614" y="826.1">Lippia graveolens</text>
<rect class="mp dt" x="605.3" y="831.8" width="3.5" height="3.5"/><text class="leg" x="614" y="836.3">Mimosa polyantha</text>
<rect class="rn dt" x="605.3" y="842" width="3.5" height="3.5"/><text class="leg" x="614" y="846.6">Randia nelsonii</text>
</g>
<g id="e-scale"><path d="M368 1310H396" stroke="#333" stroke-width="1.2" stroke-dasharray="4 2"/><text class="sl" x="369" y="1318">0</text><text class="sl" x="395" y="1318">5m</text></g>
<g id="e-label"><circle class="lc" cx="380" cy="1333" r="14"/><text class="lt" x="380" y="1339">e</text><text class="tt" x="713" y="1343">Transect 5</text></g>
</g>

<!-- ================= CHART F ================= -->
<g id="chart-f">
<path class="gr" d="M752 705.7H1022M752 718.2H1022M752 730.8H1022M752 743.3H1022M752 755.8H1022M752 768.4H1022M752 780.9H1022M752 793.5H1022M752 806H1022"/>
<text class="ax" x="738" y="697" font-weight="bold">n</text>
<g class="ax" text-anchor="end"><text x="747" y="708">16</text><text x="747" y="720.5">14</text><text x="747" y="733">12</text><text x="747" y="745.5">10</text><text x="747" y="758">8</text><text x="747" y="770.5">6</text><text x="747" y="783">4</text><text x="747" y="795.5">2</text><text x="747" y="808">0</text></g>
<g class="ax" text-anchor="middle"><text x="762" y="815">0</text><text x="786.6" y="815">10</text><text x="811.2" y="815">20</text><text x="835.8" y="815">30</text><text x="860.4" y="815">40</text><text x="885" y="815">50</text><text x="909.6" y="815">60</text><text x="934.2" y="815">70</text><text x="958.8" y="815">80</text><text x="983.4" y="833">90</text><text x="1008" y="833">100</text><text x="1022" y="833">m</text></g>
<g fill="none" stroke-width="1.4">
<polyline stroke="#F07F2D" marker-start="url(#m1)" marker-mid="url(#m1)" marker-end="url(#m1)" points="762,787.2 786.6,762.1 811.2,780.9 835.8,768.4 860.4,762.1 885,768.4 909.6,768.4 934.2,768.4 958.8,768.4 983.4,768.4 1008,762.1"/>
<polyline stroke="#CC7FCB" marker-start="url(#m2)" marker-mid="url(#m2)" marker-end="url(#m2)" points="762,743.3 786.6,749.6 811.2,730.8 835.8,762.1 860.4,755.8 885,749.6 909.6,724.5 934.2,718.2 958.8,762.1 983.4,743.3 1008,749.6"/>
<polyline stroke="#E8322B" marker-start="url(#m3)" marker-mid="url(#m3)" marker-end="url(#m3)" points="762,780.9 786.6,768.4 811.2,780.9 835.8,774.6 860.4,787.2 885,768.4 909.6,762.1 934.2,762.1 958.8,762.1 983.4,768.4 1008,787.2"/>
<polyline stroke="#23A846" marker-start="url(#m4)" marker-mid="url(#m4)" marker-end="url(#m4)" points="762,718.2 786.6,755.8 811.2,737 835.8,730.8 860.4,755.8 885,749.6 909.6,749.6 934.2,730.8 958.8,730.8 983.4,711.9 1008,724.5"/>
<polyline stroke="#4A6FBF" marker-start="url(#m5)" marker-mid="url(#m5)" marker-end="url(#m5)" points="762,749.6 786.6,755.8 811.2,755.8 835.8,743.3 860.4,762.1 885,762.1 909.6,749.6 934.2,755.8 958.8,755.8 983.4,755.8 1008,762.1"/>
</g>
<g id="f-legend" class="ax">
<path d="M838 821H848" stroke="#F07F2D" stroke-width="1.2"/><circle cx="843" cy="821" r="1.4" fill="#F07F2D"/><text x="849" y="823.5">T1</text>
<path d="M858 821H868" stroke="#CC7FCB" stroke-width="1.2"/><circle cx="863" cy="821" r="1.4" fill="#CC7FCB"/><text x="869" y="823.5">T2</text>
<path d="M878 821H888" stroke="#E8322B" stroke-width="1.2"/><circle cx="883" cy="821" r="1.4" fill="#E8322B"/><text x="889" y="823.5">T3</text>
<path d="M898 821H908" stroke="#23A846" stroke-width="1.2"/><circle cx="903" cy="821" r="1.4" fill="#23A846"/><text x="909" y="823.5">T4</text>
<path d="M918 821H928" stroke="#4A6FBF" stroke-width="1.2"/><circle cx="923" cy="821" r="1.4" fill="#4A6FBF"/><text x="929" y="823.5">T5</text>
</g>
<circle class="lc" cx="808" cy="839" r="13"/><text class="lt" x="808" y="845">f</text>
<text class="ct" x="836" y="848">Richness</text>
</g>

<!-- ================= CHART G ================= -->
<g id="chart-g">
<path class="gr" d="M752 870H1022M752 886.5H1022M752 903H1022M752 919.5H1022M752 936H1022M752 952.5H1022M752 969H1022"/>
<g class="ax" text-anchor="end"><text x="745" y="872">3</text><text x="747" y="888.5">2.5</text><text x="745" y="905">2</text><text x="747" y="921.5">1.5</text><text x="745" y="938">1</text><text x="747" y="954.5">0.5</text><text x="745" y="971">0</text></g>
<g class="ax" text-anchor="middle"><text x="762" y="979">0</text><text x="786.6" y="979">10</text><text x="811.2" y="979">20</text><text x="835.8" y="979">30</text><text x="860.4" y="979">40</text><text x="885" y="979">50</text><text x="909.6" y="979">60</text><text x="934.2" y="979">70</text><text x="958.8" y="979">80</text><text x="983.4" y="997">90</text><text x="1008" y="997">100</text><text x="1022" y="997">m</text></g>
<g fill="none" stroke-width="1.4">
<polyline stroke="#F07F2D" marker-start="url(#m1)" marker-mid="url(#m1)" marker-end="url(#m1)" points="762,946.6 786.6,927.1 811.2,937 835.8,923.5 860.4,919.5 885,936 909.6,918.8 934.2,927.8 958.8,940 983.4,924.5 1008,917.9"/>
<polyline stroke="#CC7FCB" marker-start="url(#m2)" marker-mid="url(#m2)" marker-end="url(#m2)" points="762,907 786.6,906.3 811.2,918.8 835.8,925.4 860.4,912.2 885,906.3 909.6,901.4 934.2,911.3 958.8,924.5 983.4,922.1 1008,911.3"/>
<polyline stroke="#E8322B" marker-start="url(#m3)" marker-mid="url(#m3)" marker-end="url(#m3)" points="762,945.2 786.6,930.1 811.2,937 835.8,924.5 860.4,936.7 885,913.9 909.6,917.9 934.2,912.9 958.8,910.3 983.4,921.2 1008,940.3"/>
<polyline stroke="#23A846" marker-start="url(#m4)" marker-mid="url(#m4)" marker-end="url(#m4)" points="762,889.8 786.6,904.6 811.2,893.8 835.8,896.4 860.4,916.2 885,917.9 909.6,906.3 934.2,897.1 958.8,894.8 983.4,889.8 1008,895.7"/>
<polyline stroke="#4A6FBF" marker-start="url(#m5)" marker-mid="url(#m5)" marker-end="url(#m5)" points="762,923.8 786.6,916.9 811.2,914.6 835.8,910.3 860.4,916.9 885,923.5 909.6,907 934.2,919.5 958.8,916.9 983.4,927.1 1008,934.4"/>
</g>
<g id="g-legend" class="ax">
<path d="M836 987H846" stroke="#F07F2D" stroke-width="1.2"/><circle cx="841" cy="987" r="1.4" fill="#F07F2D"/><text x="847" y="989.5">T1</text>
<path d="M856 987H866" stroke="#CC7FCB" stroke-width="1.2"/><circle cx="861" cy="987" r="1.4" fill="#CC7FCB"/><text x="867" y="989.5">T2</text>
<path d="M876 987H886" stroke="#E8322B" stroke-width="1.2"/><circle cx="881" cy="987" r="1.4" fill="#E8322B"/><text x="887" y="989.5">T3</text>
<path d="M896 987H906" stroke="#23A846" stroke-width="1.2"/><circle cx="901" cy="987" r="1.4" fill="#23A846"/><text x="907" y="989.5">T4</text>
<path d="M916 987H926" stroke="#4A6FBF" stroke-width="1.2"/><circle cx="921" cy="987" r="1.4" fill="#4A6FBF"/><text x="927" y="989.5">T5</text>
</g>
<circle class="lc" cx="807" cy="1003" r="13"/><text class="lt" x="807" y="1009">g</text>
<text class="ct" x="837" y="1012">Diversity</text>
</g>

<!-- ================= CHART H ================= -->
<g id="chart-h">
<path class="gr" d="M754 1032H1018M754 1047.2H1018M754 1062.3H1018M754 1077.5H1018M754 1092.7H1018M754 1107.8H1018M754 1123H1018"/>
<g class="ax" text-anchor="end" font-size="5"><text x="747" y="1034">1</text><text x="749" y="1049">0.9</text><text x="749" y="1064">0.8</text><text x="749" y="1080">0.7</text><text x="749" y="1095">0.6</text><text x="749" y="1110">0.5</text><text x="749" y="1125">0.4</text></g>
<g class="ax" text-anchor="middle"><text x="764" y="1132">0</text><text x="788.4" y="1132">10</text><text x="812.8" y="1132">20</text><text x="837.2" y="1132">30</text><text x="861.6" y="1132">40</text><text x="886" y="1132">50</text><text x="910.4" y="1132">60</text><text x="934.8" y="1132">70</text><text x="959.2" y="1132">80</text><text x="983.6" y="1132">90</text><text x="1008" y="1132">100</text><text x="1021" y="1132">m</text></g>
<g fill="none" stroke-width="1.4">
<polyline stroke="#F07F2D" marker-start="url(#m1)" marker-mid="url(#m1)" marker-end="url(#m1)" points="764,1091.1 788.4,1083.6 812.8,1074.5 837.2,1068.4 861.6,1065.4 886,1098.7 910.4,1054.7 934.8,1074.5 959.2,1107.8 983.6,1063.8 1008,1062.3"/>
<polyline stroke="#CC7FCB" marker-start="url(#m2)" marker-mid="url(#m2)" marker-end="url(#m2)" points="764,1057.8 788.4,1051.7 812.8,1089.6 837.2,1080.5 861.6,1057.8 886,1051.7 910.4,1062.3 934.8,1083.6 959.2,1077.5 983.6,1089.6 1008,1060.8"/>
<polyline stroke="#E8322B" marker-start="url(#m3)" marker-mid="url(#m3)" marker-end="url(#m3)" points="764,1101.8 788.4,1083.6 812.8,1076 837.2,1054.7 861.6,1044.1 886,1042.6 910.4,1060.8 934.8,1051.7 959.2,1044.1 983.6,1057.8 1008,1085.1"/>
<polyline stroke="#23A846" marker-start="url(#m4)" marker-mid="url(#m4)" marker-end="url(#m4)" points="764,1045.6 788.4,1041.1 812.8,1038 837.2,1048.7 861.6,1066.9 886,1077.5 910.4,1053.2 934.8,1051.7 959.2,1044.1 983.6,1048.7 1008,1051.7"/>
<polyline stroke="#4A6FBF" marker-start="url(#m5)" marker-mid="url(#m5)" marker-end="url(#m5)" points="764,1088.1 788.4,1066.9 812.8,1062.3 837.2,1065.4 861.6,1060.8 886,1074.5 910.4,1051.7 934.8,1073 959.2,1066.9 983.6,1089.6 1008,1100.2"/>
</g>
<g id="h-legend" class="ax">
<path d="M836 1141H846" stroke="#F07F2D" stroke-width="1.2"/><circle cx="841" cy="1141" r="1.4" fill="#F07F2D"/><text x="847" y="1143.5">T1</text>
<path d="M856 1141H866" stroke="#CC7FCB" stroke-width="1.2"/><circle cx="861" cy="1141" r="1.4" fill="#CC7FCB"/><text x="867" y="1143.5">T2</text>
<path d="M876 1141H886" stroke="#E8322B" stroke-width="1.2"/><circle cx="881" cy="1141" r="1.4" fill="#E8322B"/><text x="887" y="1143.5">T3</text>
<path d="M896 1141H906" stroke="#23A846" stroke-width="1.2"/><circle cx="901" cy="1141" r="1.4" fill="#23A846"/><text x="907" y="1143.5">T4</text>
<path d="M916 1141H926" stroke="#4A6FBF" stroke-width="1.2"/><circle cx="921" cy="1141" r="1.4" fill="#4A6FBF"/><text x="927" y="1143.5">T5</text>
</g>
<circle class="lc" cx="806" cy="1157" r="13"/><text class="lt" x="806" y="1163">h</text>
<text class="ct" x="846" y="1165">Evenness</text>
</g>

<!-- ================= SCHEMATIC ================= -->
<g id="schematic-cover">
<text class="sx" x="844" y="1186"><tspan font-weight="bold">foliar cover</tspan> of trees ●</text>
<text class="sx" x="842" y="1198">and shrub■by quadrant</text>
<text class="sx" x="842" y="1211"><tspan font-weight="bold">distance</tspan> to insertion point</text>
<text class="sx" x="842" y="1224">of each quadrant</text>
<rect x="779" y="1227" width="64" height="63" fill="#d3d3d3"/><rect x="843" y="1290" width="61" height="65" fill="#d3d3d3"/>
<rect x="779" y="1227" width="125" height="128" fill="none" stroke="#999" stroke-width="1"/>
<path d="M843 1227V1355M779 1290H904" stroke="#999" stroke-width="1"/>
<g font-family="Liberation Serif, serif" font-size="11" fill="#333"><text x="781" y="1240">3</text><text x="894" y="1240">4</text><text x="782" y="1343">2</text><text x="896" y="1343">1</text></g>
<g fill="none" stroke="#555" stroke-width="1"><circle cx="815" cy="1270" r="28"/><circle cx="817" cy="1301" r="22"/><circle cx="860" cy="1280" r="15"/><circle cx="866" cy="1305" r="27"/></g>
<path d="M843 1290L815 1273M843 1290L833 1272M843 1290L850 1282M843 1290L862 1281M843 1290L816 1301M843 1290L823 1306M843 1290L855 1304M843 1290L866 1304" stroke="#555" stroke-width="0.9"/>
<g fill="#111"><circle cx="815" cy="1273" r="2.4"/><circle cx="816" cy="1301" r="2.4"/><circle cx="862" cy="1281" r="2.4"/><circle cx="866" cy="1304" r="2.4"/></g>
<g fill="none" stroke="#555" stroke-width="1"><rect x="826" y="1266" width="14" height="11"/><rect x="845" y="1277" width="10" height="10"/><rect x="815" y="1300" width="16" height="12"/><rect x="850" y="1299" width="10" height="10"/></g>
<g fill="#111"><rect x="830" y="1269" width="6" height="6"/><rect x="847" y="1279" width="6" height="6"/><rect x="820" y="1303" width="6" height="6"/><rect x="852" y="1301" width="6" height="6"/></g>
</g>
<g id="schematic-height">
<text class="sx" x="986" y="1211"><tspan font-weight="bold">Height</tspan> of trees ● and</text>
<text class="sx" x="985" y="1223">shrub ■ by quadrant</text>
<rect x="961" y="1227" width="14" height="113" fill="#d3d3d3"/><rect x="989" y="1227" width="14" height="113" fill="#d3d3d3"/>
<g font-family="Liberation Serif, serif" font-size="11" fill="#333" text-anchor="middle"><text x="968" y="1246">1</text><text x="982" y="1246">2</text><text x="996" y="1246">3</text><text x="1013" y="1246">4</text></g>
<path d="M966 1341V1279M980 1341V1259M995 1341V1279M1009 1341V1268" stroke="#555" stroke-width="1.8"/>
<path d="M972 1341V1327M986 1341V1315M1000 1341V1327M1014 1341V1318" stroke="#555" stroke-width="1"/>
<g fill="#111"><circle cx="966" cy="1279" r="6.5"/><circle cx="980" cy="1259" r="6.5"/><circle cx="995" cy="1279" r="6.5"/><circle cx="1009" cy="1268" r="6.5"/>
<rect x="969" y="1324" width="6" height="6"/><rect x="983" y="1312" width="6" height="6"/><rect x="997" y="1324" width="6" height="6"/><rect x="1011" y="1315" width="6" height="6"/></g>
<path d="M956 1341H1024" stroke="#333" stroke-width="1.5"/>
<text x="990" y="1349" font-family="Liberation Serif, serif" font-size="8" fill="#333" text-anchor="middle">0</text>
</g>
</svg>
